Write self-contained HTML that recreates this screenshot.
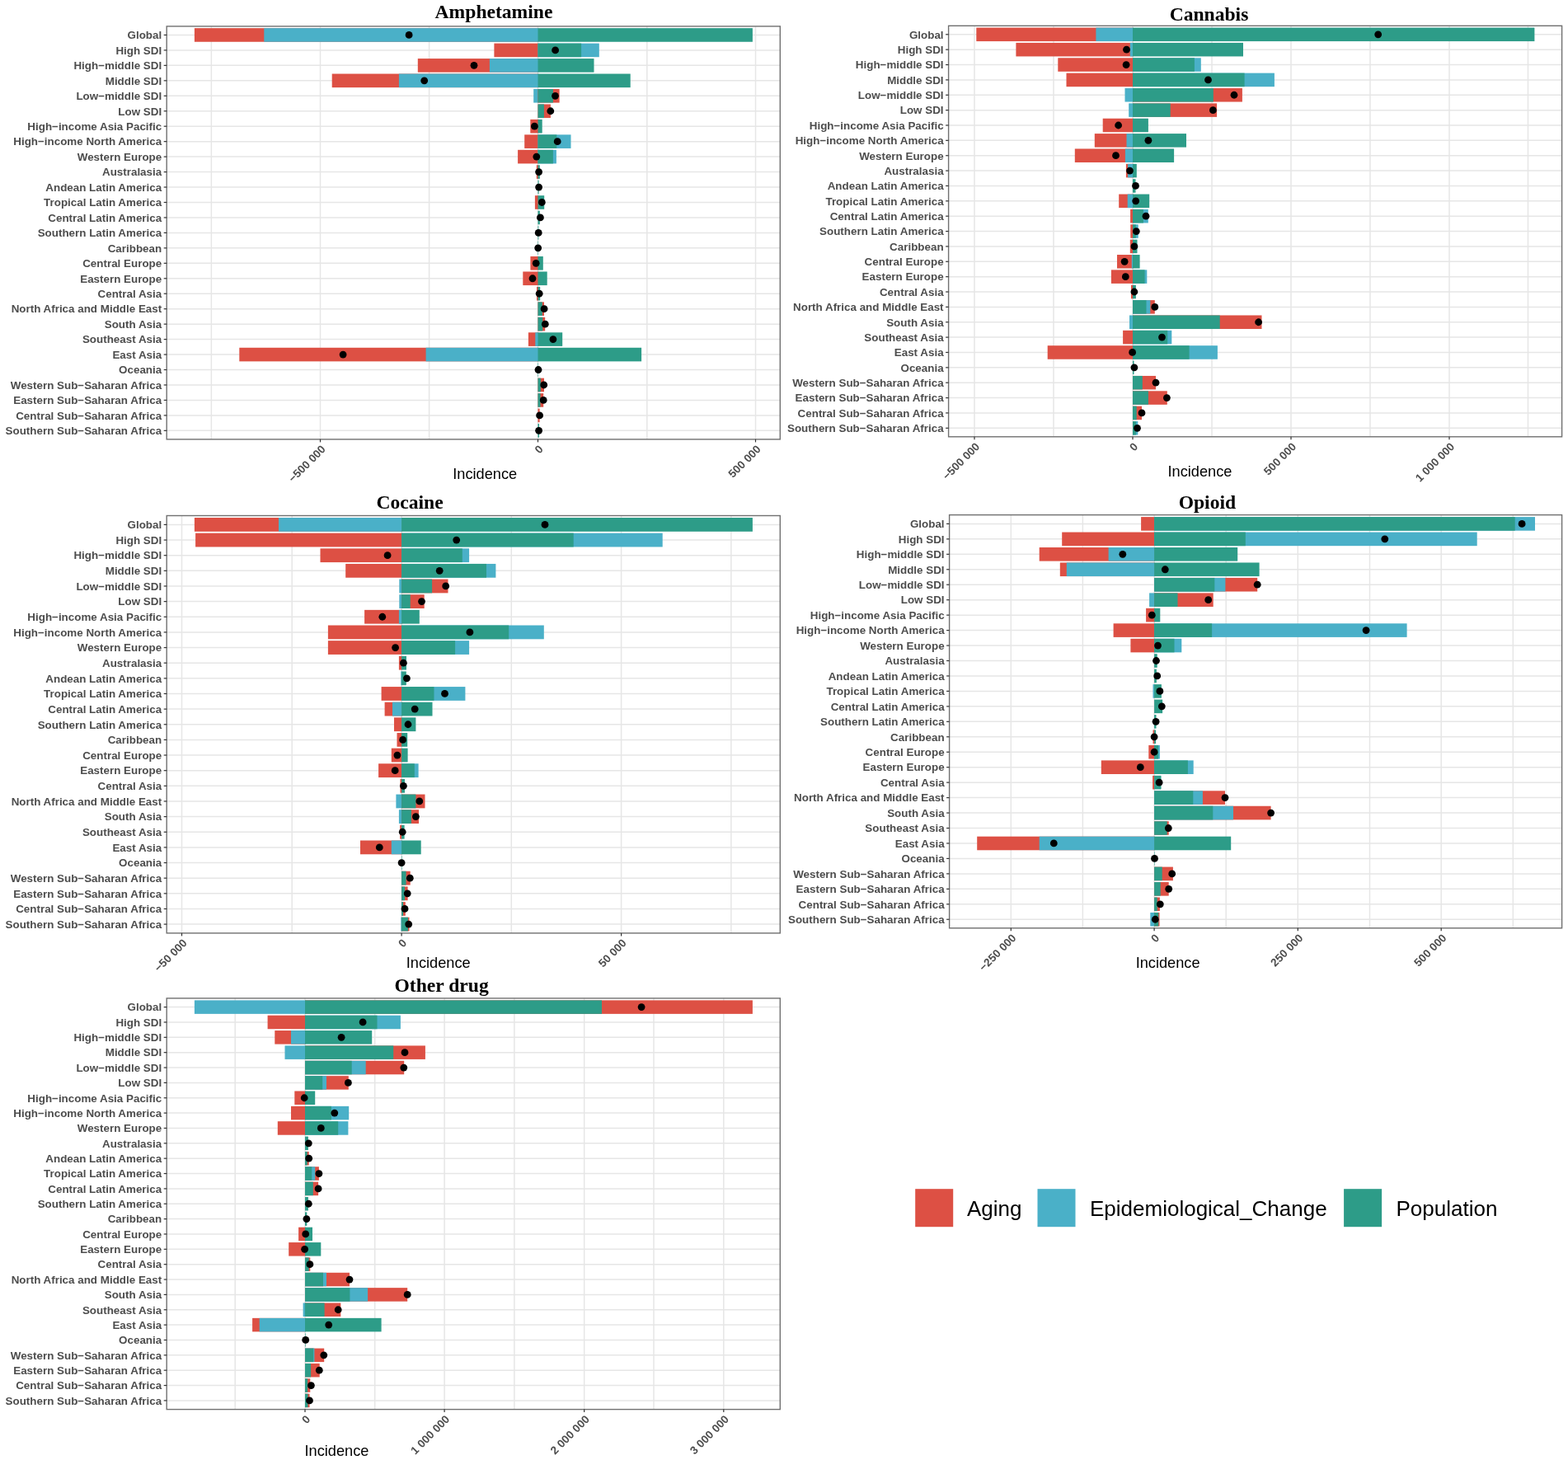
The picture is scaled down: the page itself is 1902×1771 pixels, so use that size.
<!DOCTYPE html>
<html><head><meta charset="utf-8"><title>Decomposition of incidence</title>
<style>
html,body{margin:0;padding:0;background:#fff;}
svg{display:block;}
.yl{font-family:"Liberation Sans",Arial,sans-serif;font-weight:bold;font-size:13.4px;fill:#4D4D4D;}
.xl{font-family:"Liberation Sans",Arial,sans-serif;font-weight:bold;font-size:13.5px;fill:#4D4D4D;}
.tt{font-family:"Liberation Serif","Times New Roman",serif;font-weight:bold;font-size:23.6px;fill:#000;}
.ax{font-family:"Liberation Sans",Arial,sans-serif;font-size:18.2px;fill:#000;}
.lg{font-family:"Liberation Sans",Arial,sans-serif;font-size:26.0px;fill:#000;}
</style></head>
<body>
<svg width="1902" height="1771" viewBox="0 0 1902 1771">
<rect x="0" y="0" width="1902" height="1771" fill="#fff"/>
<line x1="256.4" y1="31.9" x2="256.4" y2="532.9" stroke="#E6E6E6" stroke-width="1.5"/>
<line x1="520.6" y1="31.9" x2="520.6" y2="532.9" stroke="#E6E6E6" stroke-width="1.5"/>
<line x1="784.8" y1="31.9" x2="784.8" y2="532.9" stroke="#E6E6E6" stroke-width="1.5"/>
<line x1="388.5" y1="31.9" x2="388.5" y2="532.9" stroke="#E6E6E6" stroke-width="1.5"/>
<line x1="652.5" y1="31.9" x2="652.5" y2="532.9" stroke="#E6E6E6" stroke-width="1.5"/>
<line x1="916.5" y1="31.9" x2="916.5" y2="532.9" stroke="#E6E6E6" stroke-width="1.5"/>
<line x1="202.2" y1="42.45" x2="946.3" y2="42.45" stroke="#E6E6E6" stroke-width="1.5"/>
<line x1="202.2" y1="60.91" x2="946.3" y2="60.91" stroke="#E6E6E6" stroke-width="1.5"/>
<line x1="202.2" y1="79.37" x2="946.3" y2="79.37" stroke="#E6E6E6" stroke-width="1.5"/>
<line x1="202.2" y1="97.82" x2="946.3" y2="97.82" stroke="#E6E6E6" stroke-width="1.5"/>
<line x1="202.2" y1="116.28" x2="946.3" y2="116.28" stroke="#E6E6E6" stroke-width="1.5"/>
<line x1="202.2" y1="134.74" x2="946.3" y2="134.74" stroke="#E6E6E6" stroke-width="1.5"/>
<line x1="202.2" y1="153.2" x2="946.3" y2="153.2" stroke="#E6E6E6" stroke-width="1.5"/>
<line x1="202.2" y1="171.65" x2="946.3" y2="171.65" stroke="#E6E6E6" stroke-width="1.5"/>
<line x1="202.2" y1="190.11" x2="946.3" y2="190.11" stroke="#E6E6E6" stroke-width="1.5"/>
<line x1="202.2" y1="208.57" x2="946.3" y2="208.57" stroke="#E6E6E6" stroke-width="1.5"/>
<line x1="202.2" y1="227.03" x2="946.3" y2="227.03" stroke="#E6E6E6" stroke-width="1.5"/>
<line x1="202.2" y1="245.48" x2="946.3" y2="245.48" stroke="#E6E6E6" stroke-width="1.5"/>
<line x1="202.2" y1="263.94" x2="946.3" y2="263.94" stroke="#E6E6E6" stroke-width="1.5"/>
<line x1="202.2" y1="282.4" x2="946.3" y2="282.4" stroke="#E6E6E6" stroke-width="1.5"/>
<line x1="202.2" y1="300.86" x2="946.3" y2="300.86" stroke="#E6E6E6" stroke-width="1.5"/>
<line x1="202.2" y1="319.32" x2="946.3" y2="319.32" stroke="#E6E6E6" stroke-width="1.5"/>
<line x1="202.2" y1="337.77" x2="946.3" y2="337.77" stroke="#E6E6E6" stroke-width="1.5"/>
<line x1="202.2" y1="356.23" x2="946.3" y2="356.23" stroke="#E6E6E6" stroke-width="1.5"/>
<line x1="202.2" y1="374.69" x2="946.3" y2="374.69" stroke="#E6E6E6" stroke-width="1.5"/>
<line x1="202.2" y1="393.15" x2="946.3" y2="393.15" stroke="#E6E6E6" stroke-width="1.5"/>
<line x1="202.2" y1="411.6" x2="946.3" y2="411.6" stroke="#E6E6E6" stroke-width="1.5"/>
<line x1="202.2" y1="430.06" x2="946.3" y2="430.06" stroke="#E6E6E6" stroke-width="1.5"/>
<line x1="202.2" y1="448.52" x2="946.3" y2="448.52" stroke="#E6E6E6" stroke-width="1.5"/>
<line x1="202.2" y1="466.98" x2="946.3" y2="466.98" stroke="#E6E6E6" stroke-width="1.5"/>
<line x1="202.2" y1="485.43" x2="946.3" y2="485.43" stroke="#E6E6E6" stroke-width="1.5"/>
<line x1="202.2" y1="503.89" x2="946.3" y2="503.89" stroke="#E6E6E6" stroke-width="1.5"/>
<line x1="202.2" y1="522.35" x2="946.3" y2="522.35" stroke="#E6E6E6" stroke-width="1.5"/>
<rect x="235.9" y="34.14" width="417.2" height="16.61" fill="#DD5044"/>
<rect x="320.3" y="34.14" width="332.8" height="16.61" fill="#4AB0C8"/>
<rect x="652.5" y="34.14" width="260.4" height="16.61" fill="#2D9C88"/>
<rect x="599.4" y="52.6" width="53.7" height="16.61" fill="#DD5044"/>
<rect x="652.5" y="52.6" width="74.3" height="16.61" fill="#4AB0C8"/>
<rect x="652.5" y="52.6" width="52.6" height="16.61" fill="#2D9C88"/>
<rect x="506.8" y="71.06" width="146.3" height="16.61" fill="#DD5044"/>
<rect x="593.9" y="71.06" width="59.2" height="16.61" fill="#4AB0C8"/>
<rect x="652.5" y="71.06" width="68" height="16.61" fill="#2D9C88"/>
<rect x="402.7" y="89.52" width="250.4" height="16.61" fill="#DD5044"/>
<rect x="483.9" y="89.52" width="169.2" height="16.61" fill="#4AB0C8"/>
<rect x="652.5" y="89.52" width="112.2" height="16.61" fill="#2D9C88"/>
<rect x="647.2" y="107.97" width="5.9" height="16.61" fill="#4AB0C8"/>
<rect x="652.5" y="107.97" width="26.1" height="16.61" fill="#DD5044"/>
<rect x="652.5" y="107.97" width="18.4" height="16.61" fill="#2D9C88"/>
<rect x="652.5" y="126.43" width="15.4" height="16.61" fill="#DD5044"/>
<rect x="652.5" y="126.43" width="7.4" height="16.61" fill="#2D9C88"/>
<rect x="643.3" y="144.89" width="9.8" height="16.61" fill="#DD5044"/>
<rect x="652.5" y="144.89" width="5.2" height="16.61" fill="#2D9C88"/>
<rect x="636.2" y="163.35" width="16.9" height="16.61" fill="#DD5044"/>
<rect x="652.5" y="163.35" width="40" height="16.61" fill="#4AB0C8"/>
<rect x="652.5" y="163.35" width="22.8" height="16.61" fill="#2D9C88"/>
<rect x="628.1" y="181.81" width="25" height="16.61" fill="#DD5044"/>
<rect x="652.5" y="181.81" width="22.4" height="16.61" fill="#4AB0C8"/>
<rect x="652.5" y="181.81" width="18.4" height="16.61" fill="#2D9C88"/>
<rect x="650.8" y="200.26" width="2.3" height="16.61" fill="#DD5044"/>
<rect x="652.5" y="200.26" width="2.3" height="16.61" fill="#2D9C88"/>
<rect x="652.5" y="218.72" width="1.1" height="16.61" fill="#2D9C88"/>
<rect x="648.9" y="237.18" width="4.2" height="16.61" fill="#DD5044"/>
<rect x="652.5" y="237.18" width="7.7" height="16.61" fill="#2D9C88"/>
<rect x="652.5" y="255.64" width="2.3" height="16.61" fill="#2D9C88"/>
<rect x="652.5" y="274.09" width="0.8" height="16.61" fill="#2D9C88"/>
<rect x="652.5" y="292.55" width="0.5" height="16.61" fill="#2D9C88"/>
<rect x="643.4" y="311.01" width="9.7" height="16.61" fill="#DD5044"/>
<rect x="652.5" y="311.01" width="6.3" height="16.61" fill="#2D9C88"/>
<rect x="634.3" y="329.47" width="18.8" height="16.61" fill="#DD5044"/>
<rect x="652.5" y="329.47" width="11.2" height="16.61" fill="#2D9C88"/>
<rect x="651" y="347.92" width="2.1" height="16.61" fill="#DD5044"/>
<rect x="652.5" y="347.92" width="2.7" height="16.61" fill="#2D9C88"/>
<rect x="652.5" y="366.38" width="7.5" height="16.61" fill="#DD5044"/>
<rect x="652.5" y="366.38" width="5.3" height="16.61" fill="#2D9C88"/>
<rect x="652.5" y="384.84" width="8.7" height="16.61" fill="#DD5044"/>
<rect x="652.5" y="384.84" width="5.7" height="16.61" fill="#2D9C88"/>
<rect x="640.9" y="403.3" width="12.2" height="16.61" fill="#DD5044"/>
<rect x="649.3" y="403.3" width="3.8" height="16.61" fill="#4AB0C8"/>
<rect x="652.5" y="403.3" width="29.7" height="16.61" fill="#2D9C88"/>
<rect x="290.3" y="421.76" width="362.8" height="16.61" fill="#DD5044"/>
<rect x="516.6" y="421.76" width="136.5" height="16.61" fill="#4AB0C8"/>
<rect x="652.5" y="421.76" width="125.6" height="16.61" fill="#2D9C88"/>
<rect x="652.5" y="440.21" width="0.5" height="16.61" fill="#2D9C88"/>
<rect x="652.5" y="458.67" width="7.5" height="16.61" fill="#DD5044"/>
<rect x="652.5" y="458.67" width="3.4" height="16.61" fill="#2D9C88"/>
<rect x="652.5" y="477.13" width="6.7" height="16.61" fill="#DD5044"/>
<rect x="652.5" y="477.13" width="3" height="16.61" fill="#2D9C88"/>
<rect x="652.5" y="495.59" width="2.1" height="16.61" fill="#DD5044"/>
<rect x="652.5" y="514.04" width="1.5" height="16.61" fill="#2D9C88"/>
<circle cx="496.1" cy="42.45" r="4.4" fill="#000"/>
<circle cx="673.6" cy="60.91" r="4.4" fill="#000"/>
<circle cx="575" cy="79.37" r="4.4" fill="#000"/>
<circle cx="514.7" cy="97.82" r="4.4" fill="#000"/>
<circle cx="673.5" cy="116.28" r="4.4" fill="#000"/>
<circle cx="667.8" cy="134.74" r="4.4" fill="#000"/>
<circle cx="648.4" cy="153.2" r="4.4" fill="#000"/>
<circle cx="676.2" cy="171.65" r="4.4" fill="#000"/>
<circle cx="650.8" cy="190.11" r="4.4" fill="#000"/>
<circle cx="653.6" cy="208.57" r="4.4" fill="#000"/>
<circle cx="653.6" cy="227.03" r="4.4" fill="#000"/>
<circle cx="657.3" cy="245.48" r="4.4" fill="#000"/>
<circle cx="655.4" cy="263.94" r="4.4" fill="#000"/>
<circle cx="653.2" cy="282.4" r="4.4" fill="#000"/>
<circle cx="652.7" cy="300.86" r="4.4" fill="#000"/>
<circle cx="650.2" cy="319.32" r="4.4" fill="#000"/>
<circle cx="646" cy="337.77" r="4.4" fill="#000"/>
<circle cx="654.2" cy="356.23" r="4.4" fill="#000"/>
<circle cx="660.1" cy="374.69" r="4.4" fill="#000"/>
<circle cx="661.3" cy="393.15" r="4.4" fill="#000"/>
<circle cx="670.9" cy="411.6" r="4.4" fill="#000"/>
<circle cx="416.1" cy="430.06" r="4.4" fill="#000"/>
<circle cx="653" cy="448.52" r="4.4" fill="#000"/>
<circle cx="659.7" cy="466.98" r="4.4" fill="#000"/>
<circle cx="659.2" cy="485.43" r="4.4" fill="#000"/>
<circle cx="654.6" cy="503.89" r="4.4" fill="#000"/>
<circle cx="653.6" cy="522.35" r="4.4" fill="#000"/>
<rect x="202.2" y="31.9" width="744.1" height="501" fill="none" stroke="#707070" stroke-width="1.4"/>
<line x1="198.7" y1="42.45" x2="202.2" y2="42.45" stroke="#333" stroke-width="1.2"/>
<text x="196.2" y="47.25" text-anchor="end" class="yl">Global</text>
<line x1="198.7" y1="60.91" x2="202.2" y2="60.91" stroke="#333" stroke-width="1.2"/>
<text x="196.2" y="65.71" text-anchor="end" class="yl">High SDI</text>
<line x1="198.7" y1="79.37" x2="202.2" y2="79.37" stroke="#333" stroke-width="1.2"/>
<text x="196.2" y="84.17" text-anchor="end" class="yl">High−middle SDI</text>
<line x1="198.7" y1="97.82" x2="202.2" y2="97.82" stroke="#333" stroke-width="1.2"/>
<text x="196.2" y="102.62" text-anchor="end" class="yl">Middle SDI</text>
<line x1="198.7" y1="116.28" x2="202.2" y2="116.28" stroke="#333" stroke-width="1.2"/>
<text x="196.2" y="121.08" text-anchor="end" class="yl">Low−middle SDI</text>
<line x1="198.7" y1="134.74" x2="202.2" y2="134.74" stroke="#333" stroke-width="1.2"/>
<text x="196.2" y="139.54" text-anchor="end" class="yl">Low SDI</text>
<line x1="198.7" y1="153.2" x2="202.2" y2="153.2" stroke="#333" stroke-width="1.2"/>
<text x="196.2" y="158" text-anchor="end" class="yl">High−income Asia Pacific</text>
<line x1="198.7" y1="171.65" x2="202.2" y2="171.65" stroke="#333" stroke-width="1.2"/>
<text x="196.2" y="176.45" text-anchor="end" class="yl">High−income North America</text>
<line x1="198.7" y1="190.11" x2="202.2" y2="190.11" stroke="#333" stroke-width="1.2"/>
<text x="196.2" y="194.91" text-anchor="end" class="yl">Western Europe</text>
<line x1="198.7" y1="208.57" x2="202.2" y2="208.57" stroke="#333" stroke-width="1.2"/>
<text x="196.2" y="213.37" text-anchor="end" class="yl">Australasia</text>
<line x1="198.7" y1="227.03" x2="202.2" y2="227.03" stroke="#333" stroke-width="1.2"/>
<text x="196.2" y="231.83" text-anchor="end" class="yl">Andean Latin America</text>
<line x1="198.7" y1="245.48" x2="202.2" y2="245.48" stroke="#333" stroke-width="1.2"/>
<text x="196.2" y="250.28" text-anchor="end" class="yl">Tropical Latin America</text>
<line x1="198.7" y1="263.94" x2="202.2" y2="263.94" stroke="#333" stroke-width="1.2"/>
<text x="196.2" y="268.74" text-anchor="end" class="yl">Central Latin America</text>
<line x1="198.7" y1="282.4" x2="202.2" y2="282.4" stroke="#333" stroke-width="1.2"/>
<text x="196.2" y="287.2" text-anchor="end" class="yl">Southern Latin America</text>
<line x1="198.7" y1="300.86" x2="202.2" y2="300.86" stroke="#333" stroke-width="1.2"/>
<text x="196.2" y="305.66" text-anchor="end" class="yl">Caribbean</text>
<line x1="198.7" y1="319.32" x2="202.2" y2="319.32" stroke="#333" stroke-width="1.2"/>
<text x="196.2" y="324.12" text-anchor="end" class="yl">Central Europe</text>
<line x1="198.7" y1="337.77" x2="202.2" y2="337.77" stroke="#333" stroke-width="1.2"/>
<text x="196.2" y="342.57" text-anchor="end" class="yl">Eastern Europe</text>
<line x1="198.7" y1="356.23" x2="202.2" y2="356.23" stroke="#333" stroke-width="1.2"/>
<text x="196.2" y="361.03" text-anchor="end" class="yl">Central Asia</text>
<line x1="198.7" y1="374.69" x2="202.2" y2="374.69" stroke="#333" stroke-width="1.2"/>
<text x="196.2" y="379.49" text-anchor="end" class="yl">North Africa and Middle East</text>
<line x1="198.7" y1="393.15" x2="202.2" y2="393.15" stroke="#333" stroke-width="1.2"/>
<text x="196.2" y="397.95" text-anchor="end" class="yl">South Asia</text>
<line x1="198.7" y1="411.6" x2="202.2" y2="411.6" stroke="#333" stroke-width="1.2"/>
<text x="196.2" y="416.4" text-anchor="end" class="yl">Southeast Asia</text>
<line x1="198.7" y1="430.06" x2="202.2" y2="430.06" stroke="#333" stroke-width="1.2"/>
<text x="196.2" y="434.86" text-anchor="end" class="yl">East Asia</text>
<line x1="198.7" y1="448.52" x2="202.2" y2="448.52" stroke="#333" stroke-width="1.2"/>
<text x="196.2" y="453.32" text-anchor="end" class="yl">Oceania</text>
<line x1="198.7" y1="466.98" x2="202.2" y2="466.98" stroke="#333" stroke-width="1.2"/>
<text x="196.2" y="471.78" text-anchor="end" class="yl">Western Sub−Saharan Africa</text>
<line x1="198.7" y1="485.43" x2="202.2" y2="485.43" stroke="#333" stroke-width="1.2"/>
<text x="196.2" y="490.23" text-anchor="end" class="yl">Eastern Sub−Saharan Africa</text>
<line x1="198.7" y1="503.89" x2="202.2" y2="503.89" stroke="#333" stroke-width="1.2"/>
<text x="196.2" y="508.69" text-anchor="end" class="yl">Central Sub−Saharan Africa</text>
<line x1="198.7" y1="522.35" x2="202.2" y2="522.35" stroke="#333" stroke-width="1.2"/>
<text x="196.2" y="527.15" text-anchor="end" class="yl">Southern Sub−Saharan Africa</text>
<line x1="388.5" y1="532.9" x2="388.5" y2="536.4" stroke="#333" stroke-width="1.2"/>
<text x="0" y="0" text-anchor="end" class="xl" transform="translate(388.7,538.9) rotate(-45) translate(0,9.72)">−500 000</text>
<line x1="652.5" y1="532.9" x2="652.5" y2="536.4" stroke="#333" stroke-width="1.2"/>
<text x="0" y="0" text-anchor="end" class="xl" transform="translate(652.7,538.9) rotate(-45) translate(0,9.72)">0</text>
<line x1="916.5" y1="532.9" x2="916.5" y2="536.4" stroke="#333" stroke-width="1.2"/>
<text x="0" y="0" text-anchor="end" class="xl" transform="translate(916.7,538.9) rotate(-45) translate(0,9.72)">500 000</text>
<text x="599" y="22.1" text-anchor="middle" class="tt">Amphetamine</text>
<text x="588.2" y="580.8" text-anchor="middle" class="ax">Incidence</text>
<line x1="1278" y1="31.3" x2="1278" y2="529.8" stroke="#E6E6E6" stroke-width="1.5"/>
<line x1="1470" y1="31.3" x2="1470" y2="529.8" stroke="#E6E6E6" stroke-width="1.5"/>
<line x1="1662" y1="31.3" x2="1662" y2="529.8" stroke="#E6E6E6" stroke-width="1.5"/>
<line x1="1853.5" y1="31.3" x2="1853.5" y2="529.8" stroke="#E6E6E6" stroke-width="1.5"/>
<line x1="1182" y1="31.3" x2="1182" y2="529.8" stroke="#E6E6E6" stroke-width="1.5"/>
<line x1="1374" y1="31.3" x2="1374" y2="529.8" stroke="#E6E6E6" stroke-width="1.5"/>
<line x1="1566" y1="31.3" x2="1566" y2="529.8" stroke="#E6E6E6" stroke-width="1.5"/>
<line x1="1758" y1="31.3" x2="1758" y2="529.8" stroke="#E6E6E6" stroke-width="1.5"/>
<line x1="1150.6" y1="41.8" x2="1894.6" y2="41.8" stroke="#E6E6E6" stroke-width="1.5"/>
<line x1="1150.6" y1="60.17" x2="1894.6" y2="60.17" stroke="#E6E6E6" stroke-width="1.5"/>
<line x1="1150.6" y1="78.53" x2="1894.6" y2="78.53" stroke="#E6E6E6" stroke-width="1.5"/>
<line x1="1150.6" y1="96.9" x2="1894.6" y2="96.9" stroke="#E6E6E6" stroke-width="1.5"/>
<line x1="1150.6" y1="115.26" x2="1894.6" y2="115.26" stroke="#E6E6E6" stroke-width="1.5"/>
<line x1="1150.6" y1="133.63" x2="1894.6" y2="133.63" stroke="#E6E6E6" stroke-width="1.5"/>
<line x1="1150.6" y1="151.99" x2="1894.6" y2="151.99" stroke="#E6E6E6" stroke-width="1.5"/>
<line x1="1150.6" y1="170.36" x2="1894.6" y2="170.36" stroke="#E6E6E6" stroke-width="1.5"/>
<line x1="1150.6" y1="188.72" x2="1894.6" y2="188.72" stroke="#E6E6E6" stroke-width="1.5"/>
<line x1="1150.6" y1="207.09" x2="1894.6" y2="207.09" stroke="#E6E6E6" stroke-width="1.5"/>
<line x1="1150.6" y1="225.45" x2="1894.6" y2="225.45" stroke="#E6E6E6" stroke-width="1.5"/>
<line x1="1150.6" y1="243.82" x2="1894.6" y2="243.82" stroke="#E6E6E6" stroke-width="1.5"/>
<line x1="1150.6" y1="262.18" x2="1894.6" y2="262.18" stroke="#E6E6E6" stroke-width="1.5"/>
<line x1="1150.6" y1="280.55" x2="1894.6" y2="280.55" stroke="#E6E6E6" stroke-width="1.5"/>
<line x1="1150.6" y1="298.92" x2="1894.6" y2="298.92" stroke="#E6E6E6" stroke-width="1.5"/>
<line x1="1150.6" y1="317.28" x2="1894.6" y2="317.28" stroke="#E6E6E6" stroke-width="1.5"/>
<line x1="1150.6" y1="335.65" x2="1894.6" y2="335.65" stroke="#E6E6E6" stroke-width="1.5"/>
<line x1="1150.6" y1="354.01" x2="1894.6" y2="354.01" stroke="#E6E6E6" stroke-width="1.5"/>
<line x1="1150.6" y1="372.38" x2="1894.6" y2="372.38" stroke="#E6E6E6" stroke-width="1.5"/>
<line x1="1150.6" y1="390.74" x2="1894.6" y2="390.74" stroke="#E6E6E6" stroke-width="1.5"/>
<line x1="1150.6" y1="409.11" x2="1894.6" y2="409.11" stroke="#E6E6E6" stroke-width="1.5"/>
<line x1="1150.6" y1="427.47" x2="1894.6" y2="427.47" stroke="#E6E6E6" stroke-width="1.5"/>
<line x1="1150.6" y1="445.84" x2="1894.6" y2="445.84" stroke="#E6E6E6" stroke-width="1.5"/>
<line x1="1150.6" y1="464.2" x2="1894.6" y2="464.2" stroke="#E6E6E6" stroke-width="1.5"/>
<line x1="1150.6" y1="482.57" x2="1894.6" y2="482.57" stroke="#E6E6E6" stroke-width="1.5"/>
<line x1="1150.6" y1="500.93" x2="1894.6" y2="500.93" stroke="#E6E6E6" stroke-width="1.5"/>
<line x1="1150.6" y1="519.3" x2="1894.6" y2="519.3" stroke="#E6E6E6" stroke-width="1.5"/>
<rect x="1184.3" y="33.54" width="190.3" height="16.53" fill="#DD5044"/>
<rect x="1329.4" y="33.54" width="45.2" height="16.53" fill="#4AB0C8"/>
<rect x="1374" y="33.54" width="487.4" height="16.53" fill="#2D9C88"/>
<rect x="1232.4" y="51.9" width="142.2" height="16.53" fill="#DD5044"/>
<rect x="1370.8" y="51.9" width="3.8" height="16.53" fill="#4AB0C8"/>
<rect x="1374" y="51.9" width="134" height="16.53" fill="#2D9C88"/>
<rect x="1283.3" y="70.27" width="91.3" height="16.53" fill="#DD5044"/>
<rect x="1374" y="70.27" width="82.8" height="16.53" fill="#4AB0C8"/>
<rect x="1374" y="70.27" width="74.9" height="16.53" fill="#2D9C88"/>
<rect x="1293.5" y="88.63" width="81.1" height="16.53" fill="#DD5044"/>
<rect x="1374" y="88.63" width="171.9" height="16.53" fill="#4AB0C8"/>
<rect x="1374" y="88.63" width="135.6" height="16.53" fill="#2D9C88"/>
<rect x="1364.5" y="107" width="10.1" height="16.53" fill="#4AB0C8"/>
<rect x="1374" y="107" width="132.9" height="16.53" fill="#DD5044"/>
<rect x="1374" y="107" width="97.8" height="16.53" fill="#2D9C88"/>
<rect x="1369.2" y="125.36" width="5.4" height="16.53" fill="#4AB0C8"/>
<rect x="1374" y="125.36" width="102.1" height="16.53" fill="#DD5044"/>
<rect x="1374" y="125.36" width="45.7" height="16.53" fill="#2D9C88"/>
<rect x="1337.7" y="143.73" width="36.9" height="16.53" fill="#DD5044"/>
<rect x="1374" y="143.73" width="18.9" height="16.53" fill="#2D9C88"/>
<rect x="1327.8" y="162.09" width="46.8" height="16.53" fill="#DD5044"/>
<rect x="1366.5" y="162.09" width="8.1" height="16.53" fill="#4AB0C8"/>
<rect x="1374" y="162.09" width="65" height="16.53" fill="#2D9C88"/>
<rect x="1303.8" y="180.46" width="70.8" height="16.53" fill="#DD5044"/>
<rect x="1364.9" y="180.46" width="9.7" height="16.53" fill="#4AB0C8"/>
<rect x="1374" y="180.46" width="50.1" height="16.53" fill="#2D9C88"/>
<rect x="1365.9" y="198.82" width="8.7" height="16.53" fill="#DD5044"/>
<rect x="1368.1" y="198.82" width="6.5" height="16.53" fill="#4AB0C8"/>
<rect x="1374" y="198.82" width="4.8" height="16.53" fill="#2D9C88"/>
<rect x="1374" y="217.19" width="3.5" height="16.53" fill="#2D9C88"/>
<rect x="1357.2" y="235.55" width="17.4" height="16.53" fill="#DD5044"/>
<rect x="1367.7" y="235.55" width="6.9" height="16.53" fill="#4AB0C8"/>
<rect x="1374" y="235.55" width="20.2" height="16.53" fill="#2D9C88"/>
<rect x="1371.1" y="253.92" width="3.5" height="16.53" fill="#DD5044"/>
<rect x="1374" y="253.92" width="18.8" height="16.53" fill="#4AB0C8"/>
<rect x="1374" y="253.92" width="12.9" height="16.53" fill="#2D9C88"/>
<rect x="1371.3" y="272.29" width="3.3" height="16.53" fill="#DD5044"/>
<rect x="1374" y="272.29" width="6.7" height="16.53" fill="#4AB0C8"/>
<rect x="1374" y="272.29" width="3.8" height="16.53" fill="#2D9C88"/>
<rect x="1370.8" y="290.65" width="3.8" height="16.53" fill="#DD5044"/>
<rect x="1374" y="290.65" width="5.5" height="16.53" fill="#2D9C88"/>
<rect x="1355" y="309.02" width="19.6" height="16.53" fill="#DD5044"/>
<rect x="1372.8" y="309.02" width="1.8" height="16.53" fill="#4AB0C8"/>
<rect x="1374" y="309.02" width="8.6" height="16.53" fill="#2D9C88"/>
<rect x="1347.9" y="327.38" width="26.7" height="16.53" fill="#DD5044"/>
<rect x="1374" y="327.38" width="17.3" height="16.53" fill="#4AB0C8"/>
<rect x="1374" y="327.38" width="14.6" height="16.53" fill="#2D9C88"/>
<rect x="1372" y="345.75" width="2.6" height="16.53" fill="#DD5044"/>
<rect x="1374" y="345.75" width="3.9" height="16.53" fill="#2D9C88"/>
<rect x="1374" y="364.11" width="26.8" height="16.53" fill="#DD5044"/>
<rect x="1374" y="364.11" width="21.3" height="16.53" fill="#4AB0C8"/>
<rect x="1374" y="364.11" width="16.5" height="16.53" fill="#2D9C88"/>
<rect x="1370" y="382.48" width="4.6" height="16.53" fill="#4AB0C8"/>
<rect x="1374" y="382.48" width="156.5" height="16.53" fill="#DD5044"/>
<rect x="1374" y="382.48" width="105.7" height="16.53" fill="#2D9C88"/>
<rect x="1362.1" y="400.84" width="12.5" height="16.53" fill="#DD5044"/>
<rect x="1374" y="400.84" width="47.3" height="16.53" fill="#4AB0C8"/>
<rect x="1374" y="400.84" width="42.2" height="16.53" fill="#2D9C88"/>
<rect x="1270.7" y="419.21" width="103.9" height="16.53" fill="#DD5044"/>
<rect x="1374" y="419.21" width="102.9" height="16.53" fill="#4AB0C8"/>
<rect x="1374" y="419.21" width="68.6" height="16.53" fill="#2D9C88"/>
<rect x="1374" y="437.57" width="1.5" height="16.53" fill="#2D9C88"/>
<rect x="1374" y="455.94" width="28" height="16.53" fill="#DD5044"/>
<rect x="1374" y="455.94" width="11.8" height="16.53" fill="#2D9C88"/>
<rect x="1374" y="474.3" width="41.8" height="16.53" fill="#DD5044"/>
<rect x="1374" y="474.3" width="18.9" height="16.53" fill="#2D9C88"/>
<rect x="1374" y="492.67" width="11" height="16.53" fill="#DD5044"/>
<rect x="1374" y="492.67" width="4.7" height="16.53" fill="#2D9C88"/>
<rect x="1374" y="511.04" width="6.3" height="16.53" fill="#4AB0C8"/>
<rect x="1374" y="511.04" width="3.9" height="16.53" fill="#2D9C88"/>
<circle cx="1671.7" cy="41.8" r="4.4" fill="#000"/>
<circle cx="1366.5" cy="60.17" r="4.4" fill="#000"/>
<circle cx="1366.1" cy="78.53" r="4.4" fill="#000"/>
<circle cx="1465.5" cy="96.9" r="4.4" fill="#000"/>
<circle cx="1497" cy="115.26" r="4.4" fill="#000"/>
<circle cx="1471.4" cy="133.63" r="4.4" fill="#000"/>
<circle cx="1356.6" cy="151.99" r="4.4" fill="#000"/>
<circle cx="1392.9" cy="170.36" r="4.4" fill="#000"/>
<circle cx="1353.5" cy="188.72" r="4.4" fill="#000"/>
<circle cx="1370.5" cy="207.09" r="4.4" fill="#000"/>
<circle cx="1377.5" cy="225.45" r="4.4" fill="#000"/>
<circle cx="1377.7" cy="243.82" r="4.4" fill="#000"/>
<circle cx="1390" cy="262.18" r="4.4" fill="#000"/>
<circle cx="1378.3" cy="280.55" r="4.4" fill="#000"/>
<circle cx="1375.9" cy="298.92" r="4.4" fill="#000"/>
<circle cx="1364.1" cy="317.28" r="4.4" fill="#000"/>
<circle cx="1365.3" cy="335.65" r="4.4" fill="#000"/>
<circle cx="1375.9" cy="354.01" r="4.4" fill="#000"/>
<circle cx="1400.8" cy="372.38" r="4.4" fill="#000"/>
<circle cx="1526.6" cy="390.74" r="4.4" fill="#000"/>
<circle cx="1409.5" cy="409.11" r="4.4" fill="#000"/>
<circle cx="1373.6" cy="427.47" r="4.4" fill="#000"/>
<circle cx="1375.9" cy="445.84" r="4.4" fill="#000"/>
<circle cx="1402" cy="464.2" r="4.4" fill="#000"/>
<circle cx="1415.4" cy="482.57" r="4.4" fill="#000"/>
<circle cx="1385" cy="500.93" r="4.4" fill="#000"/>
<circle cx="1379.5" cy="519.3" r="4.4" fill="#000"/>
<rect x="1150.6" y="31.3" width="744" height="498.5" fill="none" stroke="#707070" stroke-width="1.4"/>
<line x1="1147.1" y1="41.8" x2="1150.6" y2="41.8" stroke="#333" stroke-width="1.2"/>
<text x="1144.6" y="46.6" text-anchor="end" class="yl">Global</text>
<line x1="1147.1" y1="60.17" x2="1150.6" y2="60.17" stroke="#333" stroke-width="1.2"/>
<text x="1144.6" y="64.97" text-anchor="end" class="yl">High SDI</text>
<line x1="1147.1" y1="78.53" x2="1150.6" y2="78.53" stroke="#333" stroke-width="1.2"/>
<text x="1144.6" y="83.33" text-anchor="end" class="yl">High−middle SDI</text>
<line x1="1147.1" y1="96.9" x2="1150.6" y2="96.9" stroke="#333" stroke-width="1.2"/>
<text x="1144.6" y="101.7" text-anchor="end" class="yl">Middle SDI</text>
<line x1="1147.1" y1="115.26" x2="1150.6" y2="115.26" stroke="#333" stroke-width="1.2"/>
<text x="1144.6" y="120.06" text-anchor="end" class="yl">Low−middle SDI</text>
<line x1="1147.1" y1="133.63" x2="1150.6" y2="133.63" stroke="#333" stroke-width="1.2"/>
<text x="1144.6" y="138.43" text-anchor="end" class="yl">Low SDI</text>
<line x1="1147.1" y1="151.99" x2="1150.6" y2="151.99" stroke="#333" stroke-width="1.2"/>
<text x="1144.6" y="156.79" text-anchor="end" class="yl">High−income Asia Pacific</text>
<line x1="1147.1" y1="170.36" x2="1150.6" y2="170.36" stroke="#333" stroke-width="1.2"/>
<text x="1144.6" y="175.16" text-anchor="end" class="yl">High−income North America</text>
<line x1="1147.1" y1="188.72" x2="1150.6" y2="188.72" stroke="#333" stroke-width="1.2"/>
<text x="1144.6" y="193.52" text-anchor="end" class="yl">Western Europe</text>
<line x1="1147.1" y1="207.09" x2="1150.6" y2="207.09" stroke="#333" stroke-width="1.2"/>
<text x="1144.6" y="211.89" text-anchor="end" class="yl">Australasia</text>
<line x1="1147.1" y1="225.45" x2="1150.6" y2="225.45" stroke="#333" stroke-width="1.2"/>
<text x="1144.6" y="230.25" text-anchor="end" class="yl">Andean Latin America</text>
<line x1="1147.1" y1="243.82" x2="1150.6" y2="243.82" stroke="#333" stroke-width="1.2"/>
<text x="1144.6" y="248.62" text-anchor="end" class="yl">Tropical Latin America</text>
<line x1="1147.1" y1="262.18" x2="1150.6" y2="262.18" stroke="#333" stroke-width="1.2"/>
<text x="1144.6" y="266.98" text-anchor="end" class="yl">Central Latin America</text>
<line x1="1147.1" y1="280.55" x2="1150.6" y2="280.55" stroke="#333" stroke-width="1.2"/>
<text x="1144.6" y="285.35" text-anchor="end" class="yl">Southern Latin America</text>
<line x1="1147.1" y1="298.92" x2="1150.6" y2="298.92" stroke="#333" stroke-width="1.2"/>
<text x="1144.6" y="303.72" text-anchor="end" class="yl">Caribbean</text>
<line x1="1147.1" y1="317.28" x2="1150.6" y2="317.28" stroke="#333" stroke-width="1.2"/>
<text x="1144.6" y="322.08" text-anchor="end" class="yl">Central Europe</text>
<line x1="1147.1" y1="335.65" x2="1150.6" y2="335.65" stroke="#333" stroke-width="1.2"/>
<text x="1144.6" y="340.45" text-anchor="end" class="yl">Eastern Europe</text>
<line x1="1147.1" y1="354.01" x2="1150.6" y2="354.01" stroke="#333" stroke-width="1.2"/>
<text x="1144.6" y="358.81" text-anchor="end" class="yl">Central Asia</text>
<line x1="1147.1" y1="372.38" x2="1150.6" y2="372.38" stroke="#333" stroke-width="1.2"/>
<text x="1144.6" y="377.18" text-anchor="end" class="yl">North Africa and Middle East</text>
<line x1="1147.1" y1="390.74" x2="1150.6" y2="390.74" stroke="#333" stroke-width="1.2"/>
<text x="1144.6" y="395.54" text-anchor="end" class="yl">South Asia</text>
<line x1="1147.1" y1="409.11" x2="1150.6" y2="409.11" stroke="#333" stroke-width="1.2"/>
<text x="1144.6" y="413.91" text-anchor="end" class="yl">Southeast Asia</text>
<line x1="1147.1" y1="427.47" x2="1150.6" y2="427.47" stroke="#333" stroke-width="1.2"/>
<text x="1144.6" y="432.27" text-anchor="end" class="yl">East Asia</text>
<line x1="1147.1" y1="445.84" x2="1150.6" y2="445.84" stroke="#333" stroke-width="1.2"/>
<text x="1144.6" y="450.64" text-anchor="end" class="yl">Oceania</text>
<line x1="1147.1" y1="464.2" x2="1150.6" y2="464.2" stroke="#333" stroke-width="1.2"/>
<text x="1144.6" y="469" text-anchor="end" class="yl">Western Sub−Saharan Africa</text>
<line x1="1147.1" y1="482.57" x2="1150.6" y2="482.57" stroke="#333" stroke-width="1.2"/>
<text x="1144.6" y="487.37" text-anchor="end" class="yl">Eastern Sub−Saharan Africa</text>
<line x1="1147.1" y1="500.93" x2="1150.6" y2="500.93" stroke="#333" stroke-width="1.2"/>
<text x="1144.6" y="505.73" text-anchor="end" class="yl">Central Sub−Saharan Africa</text>
<line x1="1147.1" y1="519.3" x2="1150.6" y2="519.3" stroke="#333" stroke-width="1.2"/>
<text x="1144.6" y="524.1" text-anchor="end" class="yl">Southern Sub−Saharan Africa</text>
<line x1="1182" y1="529.8" x2="1182" y2="533.3" stroke="#333" stroke-width="1.2"/>
<text x="0" y="0" text-anchor="end" class="xl" transform="translate(1182.2,535.8) rotate(-45) translate(0,9.72)">−500 000</text>
<line x1="1374" y1="529.8" x2="1374" y2="533.3" stroke="#333" stroke-width="1.2"/>
<text x="0" y="0" text-anchor="end" class="xl" transform="translate(1374.2,535.8) rotate(-45) translate(0,9.72)">0</text>
<line x1="1566" y1="529.8" x2="1566" y2="533.3" stroke="#333" stroke-width="1.2"/>
<text x="0" y="0" text-anchor="end" class="xl" transform="translate(1566.2,535.8) rotate(-45) translate(0,9.72)">500 000</text>
<line x1="1758" y1="529.8" x2="1758" y2="533.3" stroke="#333" stroke-width="1.2"/>
<text x="0" y="0" text-anchor="end" class="xl" transform="translate(1758.2,535.8) rotate(-45) translate(0,9.72)">1 000 000</text>
<text x="1466.5" y="24.5" text-anchor="middle" class="tt">Cannabis</text>
<text x="1455.5" y="578.2" text-anchor="middle" class="ax">Incidence</text>
<line x1="354.2" y1="625.5" x2="354.2" y2="1131.9" stroke="#E6E6E6" stroke-width="1.5"/>
<line x1="620.3" y1="625.5" x2="620.3" y2="1131.9" stroke="#E6E6E6" stroke-width="1.5"/>
<line x1="886.9" y1="625.5" x2="886.9" y2="1131.9" stroke="#E6E6E6" stroke-width="1.5"/>
<line x1="220.5" y1="625.5" x2="220.5" y2="1131.9" stroke="#E6E6E6" stroke-width="1.5"/>
<line x1="487.1" y1="625.5" x2="487.1" y2="1131.9" stroke="#E6E6E6" stroke-width="1.5"/>
<line x1="753.6" y1="625.5" x2="753.6" y2="1131.9" stroke="#E6E6E6" stroke-width="1.5"/>
<line x1="202.2" y1="636.4" x2="946.3" y2="636.4" stroke="#E6E6E6" stroke-width="1.5"/>
<line x1="202.2" y1="655.04" x2="946.3" y2="655.04" stroke="#E6E6E6" stroke-width="1.5"/>
<line x1="202.2" y1="673.68" x2="946.3" y2="673.68" stroke="#E6E6E6" stroke-width="1.5"/>
<line x1="202.2" y1="692.33" x2="946.3" y2="692.33" stroke="#E6E6E6" stroke-width="1.5"/>
<line x1="202.2" y1="710.97" x2="946.3" y2="710.97" stroke="#E6E6E6" stroke-width="1.5"/>
<line x1="202.2" y1="729.61" x2="946.3" y2="729.61" stroke="#E6E6E6" stroke-width="1.5"/>
<line x1="202.2" y1="748.25" x2="946.3" y2="748.25" stroke="#E6E6E6" stroke-width="1.5"/>
<line x1="202.2" y1="766.9" x2="946.3" y2="766.9" stroke="#E6E6E6" stroke-width="1.5"/>
<line x1="202.2" y1="785.54" x2="946.3" y2="785.54" stroke="#E6E6E6" stroke-width="1.5"/>
<line x1="202.2" y1="804.18" x2="946.3" y2="804.18" stroke="#E6E6E6" stroke-width="1.5"/>
<line x1="202.2" y1="822.82" x2="946.3" y2="822.82" stroke="#E6E6E6" stroke-width="1.5"/>
<line x1="202.2" y1="841.47" x2="946.3" y2="841.47" stroke="#E6E6E6" stroke-width="1.5"/>
<line x1="202.2" y1="860.11" x2="946.3" y2="860.11" stroke="#E6E6E6" stroke-width="1.5"/>
<line x1="202.2" y1="878.75" x2="946.3" y2="878.75" stroke="#E6E6E6" stroke-width="1.5"/>
<line x1="202.2" y1="897.39" x2="946.3" y2="897.39" stroke="#E6E6E6" stroke-width="1.5"/>
<line x1="202.2" y1="916.03" x2="946.3" y2="916.03" stroke="#E6E6E6" stroke-width="1.5"/>
<line x1="202.2" y1="934.68" x2="946.3" y2="934.68" stroke="#E6E6E6" stroke-width="1.5"/>
<line x1="202.2" y1="953.32" x2="946.3" y2="953.32" stroke="#E6E6E6" stroke-width="1.5"/>
<line x1="202.2" y1="971.96" x2="946.3" y2="971.96" stroke="#E6E6E6" stroke-width="1.5"/>
<line x1="202.2" y1="990.6" x2="946.3" y2="990.6" stroke="#E6E6E6" stroke-width="1.5"/>
<line x1="202.2" y1="1009.25" x2="946.3" y2="1009.25" stroke="#E6E6E6" stroke-width="1.5"/>
<line x1="202.2" y1="1027.89" x2="946.3" y2="1027.89" stroke="#E6E6E6" stroke-width="1.5"/>
<line x1="202.2" y1="1046.53" x2="946.3" y2="1046.53" stroke="#E6E6E6" stroke-width="1.5"/>
<line x1="202.2" y1="1065.17" x2="946.3" y2="1065.17" stroke="#E6E6E6" stroke-width="1.5"/>
<line x1="202.2" y1="1083.82" x2="946.3" y2="1083.82" stroke="#E6E6E6" stroke-width="1.5"/>
<line x1="202.2" y1="1102.46" x2="946.3" y2="1102.46" stroke="#E6E6E6" stroke-width="1.5"/>
<line x1="202.2" y1="1121.1" x2="946.3" y2="1121.1" stroke="#E6E6E6" stroke-width="1.5"/>
<rect x="235.9" y="628.01" width="251.8" height="16.78" fill="#DD5044"/>
<rect x="338" y="628.01" width="149.7" height="16.78" fill="#4AB0C8"/>
<rect x="487.1" y="628.01" width="425.8" height="16.78" fill="#2D9C88"/>
<rect x="237.1" y="646.65" width="250.6" height="16.78" fill="#DD5044"/>
<rect x="487.1" y="646.65" width="316.6" height="16.78" fill="#4AB0C8"/>
<rect x="487.1" y="646.65" width="208.6" height="16.78" fill="#2D9C88"/>
<rect x="388.5" y="665.3" width="99.2" height="16.78" fill="#DD5044"/>
<rect x="487.1" y="665.3" width="82" height="16.78" fill="#4AB0C8"/>
<rect x="487.1" y="665.3" width="73.7" height="16.78" fill="#2D9C88"/>
<rect x="419.2" y="683.94" width="68.5" height="16.78" fill="#DD5044"/>
<rect x="487.1" y="683.94" width="114.3" height="16.78" fill="#4AB0C8"/>
<rect x="487.1" y="683.94" width="102.9" height="16.78" fill="#2D9C88"/>
<rect x="484.3" y="702.58" width="3.4" height="16.78" fill="#4AB0C8"/>
<rect x="487.1" y="702.58" width="56.4" height="16.78" fill="#DD5044"/>
<rect x="487.1" y="702.58" width="37" height="16.78" fill="#2D9C88"/>
<rect x="484.3" y="721.22" width="3.4" height="16.78" fill="#4AB0C8"/>
<rect x="487.1" y="721.22" width="27.6" height="16.78" fill="#DD5044"/>
<rect x="487.1" y="721.22" width="10.6" height="16.78" fill="#2D9C88"/>
<rect x="442.1" y="739.86" width="45.6" height="16.78" fill="#DD5044"/>
<rect x="483.9" y="739.86" width="3.8" height="16.78" fill="#4AB0C8"/>
<rect x="487.1" y="739.86" width="21.7" height="16.78" fill="#2D9C88"/>
<rect x="397.9" y="758.51" width="89.8" height="16.78" fill="#DD5044"/>
<rect x="487.1" y="758.51" width="172.7" height="16.78" fill="#4AB0C8"/>
<rect x="487.1" y="758.51" width="130.1" height="16.78" fill="#2D9C88"/>
<rect x="397.9" y="777.15" width="89.8" height="16.78" fill="#DD5044"/>
<rect x="487.1" y="777.15" width="82" height="16.78" fill="#4AB0C8"/>
<rect x="487.1" y="777.15" width="65" height="16.78" fill="#2D9C88"/>
<rect x="483.9" y="795.79" width="3.8" height="16.78" fill="#DD5044"/>
<rect x="487.1" y="795.79" width="5.9" height="16.78" fill="#2D9C88"/>
<rect x="486.3" y="814.43" width="1.4" height="16.78" fill="#4AB0C8"/>
<rect x="487.1" y="814.43" width="5.7" height="16.78" fill="#2D9C88"/>
<rect x="462.6" y="833.08" width="25.1" height="16.78" fill="#DD5044"/>
<rect x="487.1" y="833.08" width="77.3" height="16.78" fill="#4AB0C8"/>
<rect x="487.1" y="833.08" width="39.4" height="16.78" fill="#2D9C88"/>
<rect x="466.6" y="851.72" width="21.1" height="16.78" fill="#DD5044"/>
<rect x="476" y="851.72" width="11.7" height="16.78" fill="#4AB0C8"/>
<rect x="487.1" y="851.72" width="37.4" height="16.78" fill="#2D9C88"/>
<rect x="478" y="870.36" width="9.7" height="16.78" fill="#DD5044"/>
<rect x="487.1" y="870.36" width="17.3" height="16.78" fill="#2D9C88"/>
<rect x="481.5" y="889" width="6.2" height="16.78" fill="#DD5044"/>
<rect x="487.1" y="889" width="7.1" height="16.78" fill="#2D9C88"/>
<rect x="474.8" y="907.65" width="12.9" height="16.78" fill="#DD5044"/>
<rect x="487.1" y="907.65" width="7.5" height="16.78" fill="#2D9C88"/>
<rect x="459.1" y="926.29" width="28.6" height="16.78" fill="#DD5044"/>
<rect x="487.1" y="926.29" width="20.5" height="16.78" fill="#4AB0C8"/>
<rect x="487.1" y="926.29" width="15.7" height="16.78" fill="#2D9C88"/>
<rect x="485.5" y="944.93" width="2.2" height="16.78" fill="#DD5044"/>
<rect x="487.1" y="944.93" width="3.9" height="16.78" fill="#2D9C88"/>
<rect x="480.4" y="963.57" width="7.3" height="16.78" fill="#4AB0C8"/>
<rect x="487.1" y="963.57" width="28.4" height="16.78" fill="#DD5044"/>
<rect x="487.1" y="963.57" width="17.3" height="16.78" fill="#2D9C88"/>
<rect x="483.9" y="982.21" width="3.8" height="16.78" fill="#4AB0C8"/>
<rect x="487.1" y="982.21" width="20.9" height="16.78" fill="#DD5044"/>
<rect x="487.1" y="982.21" width="11.8" height="16.78" fill="#2D9C88"/>
<rect x="485.1" y="1000.86" width="2.6" height="16.78" fill="#DD5044"/>
<rect x="487.1" y="1000.86" width="3.5" height="16.78" fill="#2D9C88"/>
<rect x="437" y="1019.5" width="50.7" height="16.78" fill="#DD5044"/>
<rect x="474.8" y="1019.5" width="12.9" height="16.78" fill="#4AB0C8"/>
<rect x="487.1" y="1019.5" width="23.6" height="16.78" fill="#2D9C88"/>
<rect x="487.1" y="1038.14" width="0.5" height="16.78" fill="#2D9C88"/>
<rect x="487.1" y="1056.78" width="10.6" height="16.78" fill="#DD5044"/>
<rect x="487.1" y="1056.78" width="5.5" height="16.78" fill="#2D9C88"/>
<rect x="487.1" y="1075.43" width="7.5" height="16.78" fill="#DD5044"/>
<rect x="487.1" y="1075.43" width="3.9" height="16.78" fill="#2D9C88"/>
<rect x="487.1" y="1094.07" width="4.7" height="16.78" fill="#DD5044"/>
<rect x="487.1" y="1094.07" width="1.9" height="16.78" fill="#2D9C88"/>
<rect x="486.3" y="1112.71" width="1.4" height="16.78" fill="#4AB0C8"/>
<rect x="487.1" y="1112.71" width="9.4" height="16.78" fill="#DD5044"/>
<rect x="487.1" y="1112.71" width="7.9" height="16.78" fill="#2D9C88"/>
<circle cx="661" cy="636.4" r="4.4" fill="#000"/>
<circle cx="553.7" cy="655.04" r="4.4" fill="#000"/>
<circle cx="470.1" cy="673.68" r="4.4" fill="#000"/>
<circle cx="533.2" cy="692.33" r="4.4" fill="#000"/>
<circle cx="540.7" cy="710.97" r="4.4" fill="#000"/>
<circle cx="511.5" cy="729.61" r="4.4" fill="#000"/>
<circle cx="463.8" cy="748.25" r="4.4" fill="#000"/>
<circle cx="569.9" cy="766.9" r="4.4" fill="#000"/>
<circle cx="479.6" cy="785.54" r="4.4" fill="#000"/>
<circle cx="489.4" cy="804.18" r="4.4" fill="#000"/>
<circle cx="493.4" cy="822.82" r="4.4" fill="#000"/>
<circle cx="539.5" cy="841.47" r="4.4" fill="#000"/>
<circle cx="503.2" cy="860.11" r="4.4" fill="#000"/>
<circle cx="495" cy="878.75" r="4.4" fill="#000"/>
<circle cx="488.6" cy="897.39" r="4.4" fill="#000"/>
<circle cx="481.9" cy="916.03" r="4.4" fill="#000"/>
<circle cx="479.2" cy="934.68" r="4.4" fill="#000"/>
<circle cx="489.4" cy="953.32" r="4.4" fill="#000"/>
<circle cx="508.8" cy="971.96" r="4.4" fill="#000"/>
<circle cx="504.4" cy="990.6" r="4.4" fill="#000"/>
<circle cx="488.2" cy="1009.25" r="4.4" fill="#000"/>
<circle cx="460.3" cy="1027.89" r="4.4" fill="#000"/>
<circle cx="487.1" cy="1046.53" r="4.4" fill="#000"/>
<circle cx="497.3" cy="1065.17" r="4.4" fill="#000"/>
<circle cx="494.2" cy="1083.82" r="4.4" fill="#000"/>
<circle cx="491" cy="1102.46" r="4.4" fill="#000"/>
<circle cx="495.7" cy="1121.1" r="4.4" fill="#000"/>
<rect x="202.2" y="625.5" width="744.1" height="506.4" fill="none" stroke="#707070" stroke-width="1.4"/>
<line x1="198.7" y1="636.4" x2="202.2" y2="636.4" stroke="#333" stroke-width="1.2"/>
<text x="196.2" y="641.2" text-anchor="end" class="yl">Global</text>
<line x1="198.7" y1="655.04" x2="202.2" y2="655.04" stroke="#333" stroke-width="1.2"/>
<text x="196.2" y="659.84" text-anchor="end" class="yl">High SDI</text>
<line x1="198.7" y1="673.68" x2="202.2" y2="673.68" stroke="#333" stroke-width="1.2"/>
<text x="196.2" y="678.48" text-anchor="end" class="yl">High−middle SDI</text>
<line x1="198.7" y1="692.33" x2="202.2" y2="692.33" stroke="#333" stroke-width="1.2"/>
<text x="196.2" y="697.13" text-anchor="end" class="yl">Middle SDI</text>
<line x1="198.7" y1="710.97" x2="202.2" y2="710.97" stroke="#333" stroke-width="1.2"/>
<text x="196.2" y="715.77" text-anchor="end" class="yl">Low−middle SDI</text>
<line x1="198.7" y1="729.61" x2="202.2" y2="729.61" stroke="#333" stroke-width="1.2"/>
<text x="196.2" y="734.41" text-anchor="end" class="yl">Low SDI</text>
<line x1="198.7" y1="748.25" x2="202.2" y2="748.25" stroke="#333" stroke-width="1.2"/>
<text x="196.2" y="753.05" text-anchor="end" class="yl">High−income Asia Pacific</text>
<line x1="198.7" y1="766.9" x2="202.2" y2="766.9" stroke="#333" stroke-width="1.2"/>
<text x="196.2" y="771.7" text-anchor="end" class="yl">High−income North America</text>
<line x1="198.7" y1="785.54" x2="202.2" y2="785.54" stroke="#333" stroke-width="1.2"/>
<text x="196.2" y="790.34" text-anchor="end" class="yl">Western Europe</text>
<line x1="198.7" y1="804.18" x2="202.2" y2="804.18" stroke="#333" stroke-width="1.2"/>
<text x="196.2" y="808.98" text-anchor="end" class="yl">Australasia</text>
<line x1="198.7" y1="822.82" x2="202.2" y2="822.82" stroke="#333" stroke-width="1.2"/>
<text x="196.2" y="827.62" text-anchor="end" class="yl">Andean Latin America</text>
<line x1="198.7" y1="841.47" x2="202.2" y2="841.47" stroke="#333" stroke-width="1.2"/>
<text x="196.2" y="846.27" text-anchor="end" class="yl">Tropical Latin America</text>
<line x1="198.7" y1="860.11" x2="202.2" y2="860.11" stroke="#333" stroke-width="1.2"/>
<text x="196.2" y="864.91" text-anchor="end" class="yl">Central Latin America</text>
<line x1="198.7" y1="878.75" x2="202.2" y2="878.75" stroke="#333" stroke-width="1.2"/>
<text x="196.2" y="883.55" text-anchor="end" class="yl">Southern Latin America</text>
<line x1="198.7" y1="897.39" x2="202.2" y2="897.39" stroke="#333" stroke-width="1.2"/>
<text x="196.2" y="902.19" text-anchor="end" class="yl">Caribbean</text>
<line x1="198.7" y1="916.03" x2="202.2" y2="916.03" stroke="#333" stroke-width="1.2"/>
<text x="196.2" y="920.83" text-anchor="end" class="yl">Central Europe</text>
<line x1="198.7" y1="934.68" x2="202.2" y2="934.68" stroke="#333" stroke-width="1.2"/>
<text x="196.2" y="939.48" text-anchor="end" class="yl">Eastern Europe</text>
<line x1="198.7" y1="953.32" x2="202.2" y2="953.32" stroke="#333" stroke-width="1.2"/>
<text x="196.2" y="958.12" text-anchor="end" class="yl">Central Asia</text>
<line x1="198.7" y1="971.96" x2="202.2" y2="971.96" stroke="#333" stroke-width="1.2"/>
<text x="196.2" y="976.76" text-anchor="end" class="yl">North Africa and Middle East</text>
<line x1="198.7" y1="990.6" x2="202.2" y2="990.6" stroke="#333" stroke-width="1.2"/>
<text x="196.2" y="995.4" text-anchor="end" class="yl">South Asia</text>
<line x1="198.7" y1="1009.25" x2="202.2" y2="1009.25" stroke="#333" stroke-width="1.2"/>
<text x="196.2" y="1014.05" text-anchor="end" class="yl">Southeast Asia</text>
<line x1="198.7" y1="1027.89" x2="202.2" y2="1027.89" stroke="#333" stroke-width="1.2"/>
<text x="196.2" y="1032.69" text-anchor="end" class="yl">East Asia</text>
<line x1="198.7" y1="1046.53" x2="202.2" y2="1046.53" stroke="#333" stroke-width="1.2"/>
<text x="196.2" y="1051.33" text-anchor="end" class="yl">Oceania</text>
<line x1="198.7" y1="1065.17" x2="202.2" y2="1065.17" stroke="#333" stroke-width="1.2"/>
<text x="196.2" y="1069.97" text-anchor="end" class="yl">Western Sub−Saharan Africa</text>
<line x1="198.7" y1="1083.82" x2="202.2" y2="1083.82" stroke="#333" stroke-width="1.2"/>
<text x="196.2" y="1088.62" text-anchor="end" class="yl">Eastern Sub−Saharan Africa</text>
<line x1="198.7" y1="1102.46" x2="202.2" y2="1102.46" stroke="#333" stroke-width="1.2"/>
<text x="196.2" y="1107.26" text-anchor="end" class="yl">Central Sub−Saharan Africa</text>
<line x1="198.7" y1="1121.1" x2="202.2" y2="1121.1" stroke="#333" stroke-width="1.2"/>
<text x="196.2" y="1125.9" text-anchor="end" class="yl">Southern Sub−Saharan Africa</text>
<line x1="220.5" y1="1131.9" x2="220.5" y2="1135.4" stroke="#333" stroke-width="1.2"/>
<text x="0" y="0" text-anchor="end" class="xl" transform="translate(220.7,1137.9) rotate(-45) translate(0,9.72)">−50 000</text>
<line x1="487.1" y1="1131.9" x2="487.1" y2="1135.4" stroke="#333" stroke-width="1.2"/>
<text x="0" y="0" text-anchor="end" class="xl" transform="translate(487.3,1137.9) rotate(-45) translate(0,9.72)">0</text>
<line x1="753.6" y1="1131.9" x2="753.6" y2="1135.4" stroke="#333" stroke-width="1.2"/>
<text x="0" y="0" text-anchor="end" class="xl" transform="translate(753.8,1137.9) rotate(-45) translate(0,9.72)">50 000</text>
<text x="497.1" y="616.8" text-anchor="middle" class="tt">Cocaine</text>
<text x="531.7" y="1174" text-anchor="middle" class="ax">Incidence</text>
<line x1="1313.4" y1="624.6" x2="1313.4" y2="1125.8" stroke="#E6E6E6" stroke-width="1.5"/>
<line x1="1487.2" y1="624.6" x2="1487.2" y2="1125.8" stroke="#E6E6E6" stroke-width="1.5"/>
<line x1="1661.5" y1="624.6" x2="1661.5" y2="1125.8" stroke="#E6E6E6" stroke-width="1.5"/>
<line x1="1835.3" y1="624.6" x2="1835.3" y2="1125.8" stroke="#E6E6E6" stroke-width="1.5"/>
<line x1="1226.3" y1="624.6" x2="1226.3" y2="1125.8" stroke="#E6E6E6" stroke-width="1.5"/>
<line x1="1400.1" y1="624.6" x2="1400.1" y2="1125.8" stroke="#E6E6E6" stroke-width="1.5"/>
<line x1="1574.3" y1="624.6" x2="1574.3" y2="1125.8" stroke="#E6E6E6" stroke-width="1.5"/>
<line x1="1748.2" y1="624.6" x2="1748.2" y2="1125.8" stroke="#E6E6E6" stroke-width="1.5"/>
<line x1="1151.6" y1="635.4" x2="1894.6" y2="635.4" stroke="#E6E6E6" stroke-width="1.5"/>
<line x1="1151.6" y1="653.86" x2="1894.6" y2="653.86" stroke="#E6E6E6" stroke-width="1.5"/>
<line x1="1151.6" y1="672.31" x2="1894.6" y2="672.31" stroke="#E6E6E6" stroke-width="1.5"/>
<line x1="1151.6" y1="690.77" x2="1894.6" y2="690.77" stroke="#E6E6E6" stroke-width="1.5"/>
<line x1="1151.6" y1="709.22" x2="1894.6" y2="709.22" stroke="#E6E6E6" stroke-width="1.5"/>
<line x1="1151.6" y1="727.68" x2="1894.6" y2="727.68" stroke="#E6E6E6" stroke-width="1.5"/>
<line x1="1151.6" y1="746.13" x2="1894.6" y2="746.13" stroke="#E6E6E6" stroke-width="1.5"/>
<line x1="1151.6" y1="764.59" x2="1894.6" y2="764.59" stroke="#E6E6E6" stroke-width="1.5"/>
<line x1="1151.6" y1="783.05" x2="1894.6" y2="783.05" stroke="#E6E6E6" stroke-width="1.5"/>
<line x1="1151.6" y1="801.5" x2="1894.6" y2="801.5" stroke="#E6E6E6" stroke-width="1.5"/>
<line x1="1151.6" y1="819.96" x2="1894.6" y2="819.96" stroke="#E6E6E6" stroke-width="1.5"/>
<line x1="1151.6" y1="838.41" x2="1894.6" y2="838.41" stroke="#E6E6E6" stroke-width="1.5"/>
<line x1="1151.6" y1="856.87" x2="1894.6" y2="856.87" stroke="#E6E6E6" stroke-width="1.5"/>
<line x1="1151.6" y1="875.33" x2="1894.6" y2="875.33" stroke="#E6E6E6" stroke-width="1.5"/>
<line x1="1151.6" y1="893.78" x2="1894.6" y2="893.78" stroke="#E6E6E6" stroke-width="1.5"/>
<line x1="1151.6" y1="912.24" x2="1894.6" y2="912.24" stroke="#E6E6E6" stroke-width="1.5"/>
<line x1="1151.6" y1="930.69" x2="1894.6" y2="930.69" stroke="#E6E6E6" stroke-width="1.5"/>
<line x1="1151.6" y1="949.15" x2="1894.6" y2="949.15" stroke="#E6E6E6" stroke-width="1.5"/>
<line x1="1151.6" y1="967.6" x2="1894.6" y2="967.6" stroke="#E6E6E6" stroke-width="1.5"/>
<line x1="1151.6" y1="986.06" x2="1894.6" y2="986.06" stroke="#E6E6E6" stroke-width="1.5"/>
<line x1="1151.6" y1="1004.52" x2="1894.6" y2="1004.52" stroke="#E6E6E6" stroke-width="1.5"/>
<line x1="1151.6" y1="1022.97" x2="1894.6" y2="1022.97" stroke="#E6E6E6" stroke-width="1.5"/>
<line x1="1151.6" y1="1041.43" x2="1894.6" y2="1041.43" stroke="#E6E6E6" stroke-width="1.5"/>
<line x1="1151.6" y1="1059.88" x2="1894.6" y2="1059.88" stroke="#E6E6E6" stroke-width="1.5"/>
<line x1="1151.6" y1="1078.34" x2="1894.6" y2="1078.34" stroke="#E6E6E6" stroke-width="1.5"/>
<line x1="1151.6" y1="1096.79" x2="1894.6" y2="1096.79" stroke="#E6E6E6" stroke-width="1.5"/>
<line x1="1151.6" y1="1115.25" x2="1894.6" y2="1115.25" stroke="#E6E6E6" stroke-width="1.5"/>
<rect x="1384.1" y="627.09" width="16.6" height="16.61" fill="#DD5044"/>
<rect x="1400.1" y="627.09" width="461.9" height="16.61" fill="#4AB0C8"/>
<rect x="1400.1" y="627.09" width="437.6" height="16.61" fill="#2D9C88"/>
<rect x="1288.2" y="645.55" width="112.5" height="16.61" fill="#DD5044"/>
<rect x="1400.1" y="645.55" width="391.6" height="16.61" fill="#4AB0C8"/>
<rect x="1400.1" y="645.55" width="110.7" height="16.61" fill="#2D9C88"/>
<rect x="1260.7" y="664.01" width="140" height="16.61" fill="#DD5044"/>
<rect x="1344.6" y="664.01" width="56.1" height="16.61" fill="#4AB0C8"/>
<rect x="1400.1" y="664.01" width="101.1" height="16.61" fill="#2D9C88"/>
<rect x="1285.8" y="682.46" width="114.9" height="16.61" fill="#DD5044"/>
<rect x="1293.8" y="682.46" width="106.9" height="16.61" fill="#4AB0C8"/>
<rect x="1400.1" y="682.46" width="127.5" height="16.61" fill="#2D9C88"/>
<rect x="1400.1" y="700.92" width="125.1" height="16.61" fill="#DD5044"/>
<rect x="1400.1" y="700.92" width="86.3" height="16.61" fill="#4AB0C8"/>
<rect x="1400.1" y="700.92" width="73.2" height="16.61" fill="#2D9C88"/>
<rect x="1394.1" y="719.37" width="6.6" height="16.61" fill="#4AB0C8"/>
<rect x="1400.1" y="719.37" width="71.6" height="16.61" fill="#DD5044"/>
<rect x="1400.1" y="719.37" width="28.4" height="16.61" fill="#2D9C88"/>
<rect x="1390.1" y="737.83" width="10.6" height="16.61" fill="#DD5044"/>
<rect x="1400.1" y="737.83" width="7.2" height="16.61" fill="#2D9C88"/>
<rect x="1350.6" y="756.29" width="50.1" height="16.61" fill="#DD5044"/>
<rect x="1400.1" y="756.29" width="306.5" height="16.61" fill="#4AB0C8"/>
<rect x="1400.1" y="756.29" width="70" height="16.61" fill="#2D9C88"/>
<rect x="1371.4" y="774.74" width="29.3" height="16.61" fill="#DD5044"/>
<rect x="1400.1" y="774.74" width="33.2" height="16.61" fill="#4AB0C8"/>
<rect x="1400.1" y="774.74" width="24.4" height="16.61" fill="#2D9C88"/>
<rect x="1400.1" y="793.2" width="3.6" height="16.61" fill="#2D9C88"/>
<rect x="1400.1" y="811.65" width="2.8" height="16.61" fill="#2D9C88"/>
<rect x="1398.5" y="830.11" width="2.2" height="16.61" fill="#4AB0C8"/>
<rect x="1400.1" y="830.11" width="8.8" height="16.61" fill="#2D9C88"/>
<rect x="1400.1" y="848.56" width="10" height="16.61" fill="#2D9C88"/>
<rect x="1400.1" y="867.02" width="2.4" height="16.61" fill="#2D9C88"/>
<rect x="1398.5" y="885.48" width="2.2" height="16.61" fill="#DD5044"/>
<rect x="1400.1" y="885.48" width="2" height="16.61" fill="#2D9C88"/>
<rect x="1393.3" y="903.93" width="7.4" height="16.61" fill="#DD5044"/>
<rect x="1400.1" y="903.93" width="6.8" height="16.61" fill="#4AB0C8"/>
<rect x="1400.1" y="903.93" width="5" height="16.61" fill="#2D9C88"/>
<rect x="1335.8" y="922.39" width="64.9" height="16.61" fill="#DD5044"/>
<rect x="1400.1" y="922.39" width="47.6" height="16.61" fill="#4AB0C8"/>
<rect x="1400.1" y="922.39" width="40.8" height="16.61" fill="#2D9C88"/>
<rect x="1398.1" y="940.84" width="2.6" height="16.61" fill="#DD5044"/>
<rect x="1400.1" y="940.84" width="8.4" height="16.61" fill="#2D9C88"/>
<rect x="1400.1" y="959.3" width="85.9" height="16.61" fill="#DD5044"/>
<rect x="1400.1" y="959.3" width="58.8" height="16.61" fill="#4AB0C8"/>
<rect x="1400.1" y="959.3" width="47.2" height="16.61" fill="#2D9C88"/>
<rect x="1400.1" y="977.75" width="141.5" height="16.61" fill="#DD5044"/>
<rect x="1400.1" y="977.75" width="95.9" height="16.61" fill="#4AB0C8"/>
<rect x="1400.1" y="977.75" width="71.2" height="16.61" fill="#2D9C88"/>
<rect x="1400.1" y="996.21" width="17.6" height="16.61" fill="#DD5044"/>
<rect x="1400.1" y="996.21" width="15.6" height="16.61" fill="#2D9C88"/>
<rect x="1185.2" y="1014.67" width="215.5" height="16.61" fill="#DD5044"/>
<rect x="1260.7" y="1014.67" width="140" height="16.61" fill="#4AB0C8"/>
<rect x="1400.1" y="1014.67" width="93.1" height="16.61" fill="#2D9C88"/>
<rect x="1400.1" y="1033.12" width="0.5" height="16.61" fill="#2D9C88"/>
<rect x="1400.1" y="1051.58" width="22.8" height="16.61" fill="#DD5044"/>
<rect x="1400.1" y="1051.58" width="9.6" height="16.61" fill="#2D9C88"/>
<rect x="1400.1" y="1070.03" width="17.6" height="16.61" fill="#DD5044"/>
<rect x="1400.1" y="1070.03" width="7.6" height="16.61" fill="#2D9C88"/>
<rect x="1400.1" y="1088.49" width="6.8" height="16.61" fill="#DD5044"/>
<rect x="1400.1" y="1088.49" width="3.6" height="16.61" fill="#2D9C88"/>
<rect x="1395.3" y="1106.94" width="5.4" height="16.61" fill="#4AB0C8"/>
<rect x="1400.1" y="1106.94" width="6.4" height="16.61" fill="#DD5044"/>
<rect x="1400.1" y="1106.94" width="5.2" height="16.61" fill="#2D9C88"/>
<circle cx="1846.1" cy="635.4" r="4.4" fill="#000"/>
<circle cx="1679.8" cy="653.86" r="4.4" fill="#000"/>
<circle cx="1361.8" cy="672.31" r="4.4" fill="#000"/>
<circle cx="1413.3" cy="690.77" r="4.4" fill="#000"/>
<circle cx="1525.2" cy="709.22" r="4.4" fill="#000"/>
<circle cx="1465.7" cy="727.68" r="4.4" fill="#000"/>
<circle cx="1397.3" cy="746.13" r="4.4" fill="#000"/>
<circle cx="1657.1" cy="764.59" r="4.4" fill="#000"/>
<circle cx="1404.5" cy="783.05" r="4.4" fill="#000"/>
<circle cx="1402.5" cy="801.5" r="4.4" fill="#000"/>
<circle cx="1403.7" cy="819.96" r="4.4" fill="#000"/>
<circle cx="1406.9" cy="838.41" r="4.4" fill="#000"/>
<circle cx="1409.3" cy="856.87" r="4.4" fill="#000"/>
<circle cx="1402.1" cy="875.33" r="4.4" fill="#000"/>
<circle cx="1400.1" cy="893.78" r="4.4" fill="#000"/>
<circle cx="1400.1" cy="912.24" r="4.4" fill="#000"/>
<circle cx="1383.3" cy="930.69" r="4.4" fill="#000"/>
<circle cx="1406.1" cy="949.15" r="4.4" fill="#000"/>
<circle cx="1486" cy="967.6" r="4.4" fill="#000"/>
<circle cx="1541.6" cy="986.06" r="4.4" fill="#000"/>
<circle cx="1417.3" cy="1004.52" r="4.4" fill="#000"/>
<circle cx="1278.3" cy="1022.97" r="4.4" fill="#000"/>
<circle cx="1400.5" cy="1041.43" r="4.4" fill="#000"/>
<circle cx="1421.7" cy="1059.88" r="4.4" fill="#000"/>
<circle cx="1417.7" cy="1078.34" r="4.4" fill="#000"/>
<circle cx="1407.3" cy="1096.79" r="4.4" fill="#000"/>
<circle cx="1401.3" cy="1115.25" r="4.4" fill="#000"/>
<rect x="1151.6" y="624.6" width="743" height="501.2" fill="none" stroke="#707070" stroke-width="1.4"/>
<line x1="1148.1" y1="635.4" x2="1151.6" y2="635.4" stroke="#333" stroke-width="1.2"/>
<text x="1145.6" y="640.2" text-anchor="end" class="yl">Global</text>
<line x1="1148.1" y1="653.86" x2="1151.6" y2="653.86" stroke="#333" stroke-width="1.2"/>
<text x="1145.6" y="658.66" text-anchor="end" class="yl">High SDI</text>
<line x1="1148.1" y1="672.31" x2="1151.6" y2="672.31" stroke="#333" stroke-width="1.2"/>
<text x="1145.6" y="677.11" text-anchor="end" class="yl">High−middle SDI</text>
<line x1="1148.1" y1="690.77" x2="1151.6" y2="690.77" stroke="#333" stroke-width="1.2"/>
<text x="1145.6" y="695.57" text-anchor="end" class="yl">Middle SDI</text>
<line x1="1148.1" y1="709.22" x2="1151.6" y2="709.22" stroke="#333" stroke-width="1.2"/>
<text x="1145.6" y="714.02" text-anchor="end" class="yl">Low−middle SDI</text>
<line x1="1148.1" y1="727.68" x2="1151.6" y2="727.68" stroke="#333" stroke-width="1.2"/>
<text x="1145.6" y="732.48" text-anchor="end" class="yl">Low SDI</text>
<line x1="1148.1" y1="746.13" x2="1151.6" y2="746.13" stroke="#333" stroke-width="1.2"/>
<text x="1145.6" y="750.93" text-anchor="end" class="yl">High−income Asia Pacific</text>
<line x1="1148.1" y1="764.59" x2="1151.6" y2="764.59" stroke="#333" stroke-width="1.2"/>
<text x="1145.6" y="769.39" text-anchor="end" class="yl">High−income North America</text>
<line x1="1148.1" y1="783.05" x2="1151.6" y2="783.05" stroke="#333" stroke-width="1.2"/>
<text x="1145.6" y="787.85" text-anchor="end" class="yl">Western Europe</text>
<line x1="1148.1" y1="801.5" x2="1151.6" y2="801.5" stroke="#333" stroke-width="1.2"/>
<text x="1145.6" y="806.3" text-anchor="end" class="yl">Australasia</text>
<line x1="1148.1" y1="819.96" x2="1151.6" y2="819.96" stroke="#333" stroke-width="1.2"/>
<text x="1145.6" y="824.76" text-anchor="end" class="yl">Andean Latin America</text>
<line x1="1148.1" y1="838.41" x2="1151.6" y2="838.41" stroke="#333" stroke-width="1.2"/>
<text x="1145.6" y="843.21" text-anchor="end" class="yl">Tropical Latin America</text>
<line x1="1148.1" y1="856.87" x2="1151.6" y2="856.87" stroke="#333" stroke-width="1.2"/>
<text x="1145.6" y="861.67" text-anchor="end" class="yl">Central Latin America</text>
<line x1="1148.1" y1="875.33" x2="1151.6" y2="875.33" stroke="#333" stroke-width="1.2"/>
<text x="1145.6" y="880.12" text-anchor="end" class="yl">Southern Latin America</text>
<line x1="1148.1" y1="893.78" x2="1151.6" y2="893.78" stroke="#333" stroke-width="1.2"/>
<text x="1145.6" y="898.58" text-anchor="end" class="yl">Caribbean</text>
<line x1="1148.1" y1="912.24" x2="1151.6" y2="912.24" stroke="#333" stroke-width="1.2"/>
<text x="1145.6" y="917.04" text-anchor="end" class="yl">Central Europe</text>
<line x1="1148.1" y1="930.69" x2="1151.6" y2="930.69" stroke="#333" stroke-width="1.2"/>
<text x="1145.6" y="935.49" text-anchor="end" class="yl">Eastern Europe</text>
<line x1="1148.1" y1="949.15" x2="1151.6" y2="949.15" stroke="#333" stroke-width="1.2"/>
<text x="1145.6" y="953.95" text-anchor="end" class="yl">Central Asia</text>
<line x1="1148.1" y1="967.6" x2="1151.6" y2="967.6" stroke="#333" stroke-width="1.2"/>
<text x="1145.6" y="972.4" text-anchor="end" class="yl">North Africa and Middle East</text>
<line x1="1148.1" y1="986.06" x2="1151.6" y2="986.06" stroke="#333" stroke-width="1.2"/>
<text x="1145.6" y="990.86" text-anchor="end" class="yl">South Asia</text>
<line x1="1148.1" y1="1004.52" x2="1151.6" y2="1004.52" stroke="#333" stroke-width="1.2"/>
<text x="1145.6" y="1009.32" text-anchor="end" class="yl">Southeast Asia</text>
<line x1="1148.1" y1="1022.97" x2="1151.6" y2="1022.97" stroke="#333" stroke-width="1.2"/>
<text x="1145.6" y="1027.77" text-anchor="end" class="yl">East Asia</text>
<line x1="1148.1" y1="1041.43" x2="1151.6" y2="1041.43" stroke="#333" stroke-width="1.2"/>
<text x="1145.6" y="1046.23" text-anchor="end" class="yl">Oceania</text>
<line x1="1148.1" y1="1059.88" x2="1151.6" y2="1059.88" stroke="#333" stroke-width="1.2"/>
<text x="1145.6" y="1064.68" text-anchor="end" class="yl">Western Sub−Saharan Africa</text>
<line x1="1148.1" y1="1078.34" x2="1151.6" y2="1078.34" stroke="#333" stroke-width="1.2"/>
<text x="1145.6" y="1083.14" text-anchor="end" class="yl">Eastern Sub−Saharan Africa</text>
<line x1="1148.1" y1="1096.79" x2="1151.6" y2="1096.79" stroke="#333" stroke-width="1.2"/>
<text x="1145.6" y="1101.59" text-anchor="end" class="yl">Central Sub−Saharan Africa</text>
<line x1="1148.1" y1="1115.25" x2="1151.6" y2="1115.25" stroke="#333" stroke-width="1.2"/>
<text x="1145.6" y="1120.05" text-anchor="end" class="yl">Southern Sub−Saharan Africa</text>
<line x1="1226.3" y1="1125.8" x2="1226.3" y2="1129.3" stroke="#333" stroke-width="1.2"/>
<text x="0" y="0" text-anchor="end" class="xl" transform="translate(1226.5,1131.8) rotate(-45) translate(0,9.72)">−250 000</text>
<line x1="1400.1" y1="1125.8" x2="1400.1" y2="1129.3" stroke="#333" stroke-width="1.2"/>
<text x="0" y="0" text-anchor="end" class="xl" transform="translate(1400.3,1131.8) rotate(-45) translate(0,9.72)">0</text>
<line x1="1574.3" y1="1125.8" x2="1574.3" y2="1129.3" stroke="#333" stroke-width="1.2"/>
<text x="0" y="0" text-anchor="end" class="xl" transform="translate(1574.5,1131.8) rotate(-45) translate(0,9.72)">250 000</text>
<line x1="1748.2" y1="1125.8" x2="1748.2" y2="1129.3" stroke="#333" stroke-width="1.2"/>
<text x="0" y="0" text-anchor="end" class="xl" transform="translate(1748.4,1131.8) rotate(-45) translate(0,9.72)">500 000</text>
<text x="1464.4" y="616.8" text-anchor="middle" class="tt">Opioid</text>
<text x="1416.6" y="1174" text-anchor="middle" class="ax">Incidence</text>
<line x1="285.2" y1="1210.9" x2="285.2" y2="1709.6" stroke="#E6E6E6" stroke-width="1.5"/>
<line x1="454.7" y1="1210.9" x2="454.7" y2="1709.6" stroke="#E6E6E6" stroke-width="1.5"/>
<line x1="623.9" y1="1210.9" x2="623.9" y2="1709.6" stroke="#E6E6E6" stroke-width="1.5"/>
<line x1="793" y1="1210.9" x2="793" y2="1709.6" stroke="#E6E6E6" stroke-width="1.5"/>
<line x1="370" y1="1210.9" x2="370" y2="1709.6" stroke="#E6E6E6" stroke-width="1.5"/>
<line x1="539.1" y1="1210.9" x2="539.1" y2="1709.6" stroke="#E6E6E6" stroke-width="1.5"/>
<line x1="708.7" y1="1210.9" x2="708.7" y2="1709.6" stroke="#E6E6E6" stroke-width="1.5"/>
<line x1="877.8" y1="1210.9" x2="877.8" y2="1709.6" stroke="#E6E6E6" stroke-width="1.5"/>
<line x1="202.2" y1="1221.6" x2="946.3" y2="1221.6" stroke="#E6E6E6" stroke-width="1.5"/>
<line x1="202.2" y1="1239.96" x2="946.3" y2="1239.96" stroke="#E6E6E6" stroke-width="1.5"/>
<line x1="202.2" y1="1258.32" x2="946.3" y2="1258.32" stroke="#E6E6E6" stroke-width="1.5"/>
<line x1="202.2" y1="1276.67" x2="946.3" y2="1276.67" stroke="#E6E6E6" stroke-width="1.5"/>
<line x1="202.2" y1="1295.03" x2="946.3" y2="1295.03" stroke="#E6E6E6" stroke-width="1.5"/>
<line x1="202.2" y1="1313.39" x2="946.3" y2="1313.39" stroke="#E6E6E6" stroke-width="1.5"/>
<line x1="202.2" y1="1331.75" x2="946.3" y2="1331.75" stroke="#E6E6E6" stroke-width="1.5"/>
<line x1="202.2" y1="1350.1" x2="946.3" y2="1350.1" stroke="#E6E6E6" stroke-width="1.5"/>
<line x1="202.2" y1="1368.46" x2="946.3" y2="1368.46" stroke="#E6E6E6" stroke-width="1.5"/>
<line x1="202.2" y1="1386.82" x2="946.3" y2="1386.82" stroke="#E6E6E6" stroke-width="1.5"/>
<line x1="202.2" y1="1405.18" x2="946.3" y2="1405.18" stroke="#E6E6E6" stroke-width="1.5"/>
<line x1="202.2" y1="1423.53" x2="946.3" y2="1423.53" stroke="#E6E6E6" stroke-width="1.5"/>
<line x1="202.2" y1="1441.89" x2="946.3" y2="1441.89" stroke="#E6E6E6" stroke-width="1.5"/>
<line x1="202.2" y1="1460.25" x2="946.3" y2="1460.25" stroke="#E6E6E6" stroke-width="1.5"/>
<line x1="202.2" y1="1478.61" x2="946.3" y2="1478.61" stroke="#E6E6E6" stroke-width="1.5"/>
<line x1="202.2" y1="1496.97" x2="946.3" y2="1496.97" stroke="#E6E6E6" stroke-width="1.5"/>
<line x1="202.2" y1="1515.32" x2="946.3" y2="1515.32" stroke="#E6E6E6" stroke-width="1.5"/>
<line x1="202.2" y1="1533.68" x2="946.3" y2="1533.68" stroke="#E6E6E6" stroke-width="1.5"/>
<line x1="202.2" y1="1552.04" x2="946.3" y2="1552.04" stroke="#E6E6E6" stroke-width="1.5"/>
<line x1="202.2" y1="1570.4" x2="946.3" y2="1570.4" stroke="#E6E6E6" stroke-width="1.5"/>
<line x1="202.2" y1="1588.75" x2="946.3" y2="1588.75" stroke="#E6E6E6" stroke-width="1.5"/>
<line x1="202.2" y1="1607.11" x2="946.3" y2="1607.11" stroke="#E6E6E6" stroke-width="1.5"/>
<line x1="202.2" y1="1625.47" x2="946.3" y2="1625.47" stroke="#E6E6E6" stroke-width="1.5"/>
<line x1="202.2" y1="1643.83" x2="946.3" y2="1643.83" stroke="#E6E6E6" stroke-width="1.5"/>
<line x1="202.2" y1="1662.18" x2="946.3" y2="1662.18" stroke="#E6E6E6" stroke-width="1.5"/>
<line x1="202.2" y1="1680.54" x2="946.3" y2="1680.54" stroke="#E6E6E6" stroke-width="1.5"/>
<line x1="202.2" y1="1698.9" x2="946.3" y2="1698.9" stroke="#E6E6E6" stroke-width="1.5"/>
<rect x="235.9" y="1213.34" width="134.7" height="16.52" fill="#4AB0C8"/>
<rect x="370" y="1213.34" width="542.9" height="16.52" fill="#DD5044"/>
<rect x="370" y="1213.34" width="360" height="16.52" fill="#2D9C88"/>
<rect x="324.6" y="1231.7" width="46" height="16.52" fill="#DD5044"/>
<rect x="370" y="1231.7" width="115.9" height="16.52" fill="#4AB0C8"/>
<rect x="370" y="1231.7" width="87.5" height="16.52" fill="#2D9C88"/>
<rect x="333.3" y="1250.05" width="37.3" height="16.52" fill="#DD5044"/>
<rect x="353" y="1250.05" width="17.6" height="16.52" fill="#4AB0C8"/>
<rect x="370" y="1250.05" width="81.2" height="16.52" fill="#2D9C88"/>
<rect x="345.5" y="1268.41" width="25.1" height="16.52" fill="#4AB0C8"/>
<rect x="370" y="1268.41" width="145.9" height="16.52" fill="#DD5044"/>
<rect x="370" y="1268.41" width="107.2" height="16.52" fill="#2D9C88"/>
<rect x="370" y="1286.77" width="120.2" height="16.52" fill="#DD5044"/>
<rect x="370" y="1286.77" width="73.7" height="16.52" fill="#4AB0C8"/>
<rect x="370" y="1286.77" width="56.7" height="16.52" fill="#2D9C88"/>
<rect x="370" y="1305.13" width="52.8" height="16.52" fill="#DD5044"/>
<rect x="370" y="1305.13" width="26" height="16.52" fill="#4AB0C8"/>
<rect x="370" y="1305.13" width="21.2" height="16.52" fill="#2D9C88"/>
<rect x="357.3" y="1323.49" width="13.3" height="16.52" fill="#DD5044"/>
<rect x="370" y="1323.49" width="12.2" height="16.52" fill="#2D9C88"/>
<rect x="353" y="1341.84" width="17.6" height="16.52" fill="#DD5044"/>
<rect x="370" y="1341.84" width="53.2" height="16.52" fill="#4AB0C8"/>
<rect x="370" y="1341.84" width="31.9" height="16.52" fill="#2D9C88"/>
<rect x="336.8" y="1360.2" width="33.8" height="16.52" fill="#DD5044"/>
<rect x="370" y="1360.2" width="52.4" height="16.52" fill="#4AB0C8"/>
<rect x="370" y="1360.2" width="40.2" height="16.52" fill="#2D9C88"/>
<rect x="370" y="1378.56" width="3.9" height="16.52" fill="#2D9C88"/>
<rect x="370" y="1396.92" width="4.7" height="16.52" fill="#DD5044"/>
<rect x="370" y="1396.92" width="2.7" height="16.52" fill="#2D9C88"/>
<rect x="370" y="1415.27" width="16.9" height="16.52" fill="#DD5044"/>
<rect x="370" y="1415.27" width="12.2" height="16.52" fill="#4AB0C8"/>
<rect x="370" y="1415.27" width="8.2" height="16.52" fill="#2D9C88"/>
<rect x="370" y="1433.63" width="16.1" height="16.52" fill="#DD5044"/>
<rect x="370" y="1433.63" width="9.8" height="16.52" fill="#2D9C88"/>
<rect x="370" y="1451.99" width="3.9" height="16.52" fill="#2D9C88"/>
<rect x="370" y="1470.35" width="2.3" height="16.52" fill="#2D9C88"/>
<rect x="362.1" y="1488.7" width="8.5" height="16.52" fill="#DD5044"/>
<rect x="370" y="1488.7" width="9" height="16.52" fill="#2D9C88"/>
<rect x="350.2" y="1507.06" width="20.4" height="16.52" fill="#DD5044"/>
<rect x="370" y="1507.06" width="19.3" height="16.52" fill="#2D9C88"/>
<rect x="370" y="1525.42" width="6.3" height="16.52" fill="#DD5044"/>
<rect x="370" y="1525.42" width="4.7" height="16.52" fill="#2D9C88"/>
<rect x="370" y="1543.78" width="54" height="16.52" fill="#DD5044"/>
<rect x="370" y="1543.78" width="26" height="16.52" fill="#4AB0C8"/>
<rect x="370" y="1543.78" width="22" height="16.52" fill="#2D9C88"/>
<rect x="370" y="1562.14" width="124.2" height="16.52" fill="#DD5044"/>
<rect x="370" y="1562.14" width="76.1" height="16.52" fill="#4AB0C8"/>
<rect x="370" y="1562.14" width="54.4" height="16.52" fill="#2D9C88"/>
<rect x="367.6" y="1580.49" width="3" height="16.52" fill="#4AB0C8"/>
<rect x="370" y="1580.49" width="43.3" height="16.52" fill="#DD5044"/>
<rect x="370" y="1580.49" width="23.6" height="16.52" fill="#2D9C88"/>
<rect x="306.1" y="1598.85" width="64.5" height="16.52" fill="#DD5044"/>
<rect x="314.7" y="1598.85" width="55.9" height="16.52" fill="#4AB0C8"/>
<rect x="370" y="1598.85" width="92.6" height="16.52" fill="#2D9C88"/>
<rect x="370" y="1617.21" width="0.6" height="16.52" fill="#2D9C88"/>
<rect x="370" y="1635.57" width="23.2" height="16.52" fill="#DD5044"/>
<rect x="370" y="1635.57" width="11.4" height="16.52" fill="#4AB0C8"/>
<rect x="370" y="1635.57" width="10.2" height="16.52" fill="#2D9C88"/>
<rect x="370" y="1653.92" width="17.7" height="16.52" fill="#DD5044"/>
<rect x="370" y="1653.92" width="7.1" height="16.52" fill="#2D9C88"/>
<rect x="370" y="1672.28" width="6.3" height="16.52" fill="#DD5044"/>
<rect x="370" y="1672.28" width="3.1" height="16.52" fill="#2D9C88"/>
<rect x="370" y="1690.64" width="5.5" height="16.52" fill="#DD5044"/>
<rect x="370" y="1690.64" width="3.5" height="16.52" fill="#2D9C88"/>
<circle cx="778.1" cy="1221.6" r="4.4" fill="#000"/>
<circle cx="440.1" cy="1239.96" r="4.4" fill="#000"/>
<circle cx="414.1" cy="1258.32" r="4.4" fill="#000"/>
<circle cx="491" cy="1276.67" r="4.4" fill="#000"/>
<circle cx="489.8" cy="1295.03" r="4.4" fill="#000"/>
<circle cx="422.4" cy="1313.39" r="4.4" fill="#000"/>
<circle cx="369.2" cy="1331.75" r="4.4" fill="#000"/>
<circle cx="405.8" cy="1350.1" r="4.4" fill="#000"/>
<circle cx="389.3" cy="1368.46" r="4.4" fill="#000"/>
<circle cx="374.3" cy="1386.82" r="4.4" fill="#000"/>
<circle cx="374.7" cy="1405.18" r="4.4" fill="#000"/>
<circle cx="386.9" cy="1423.53" r="4.4" fill="#000"/>
<circle cx="386.1" cy="1441.89" r="4.4" fill="#000"/>
<circle cx="374.3" cy="1460.25" r="4.4" fill="#000"/>
<circle cx="371.9" cy="1478.61" r="4.4" fill="#000"/>
<circle cx="370.7" cy="1496.97" r="4.4" fill="#000"/>
<circle cx="369.6" cy="1515.32" r="4.4" fill="#000"/>
<circle cx="375.9" cy="1533.68" r="4.4" fill="#000"/>
<circle cx="424" cy="1552.04" r="4.4" fill="#000"/>
<circle cx="494.2" cy="1570.4" r="4.4" fill="#000"/>
<circle cx="410.2" cy="1588.75" r="4.4" fill="#000"/>
<circle cx="398.7" cy="1607.11" r="4.4" fill="#000"/>
<circle cx="370.7" cy="1625.47" r="4.4" fill="#000"/>
<circle cx="392.8" cy="1643.83" r="4.4" fill="#000"/>
<circle cx="387.3" cy="1662.18" r="4.4" fill="#000"/>
<circle cx="377.4" cy="1680.54" r="4.4" fill="#000"/>
<circle cx="375.5" cy="1698.9" r="4.4" fill="#000"/>
<rect x="202.2" y="1210.9" width="744.1" height="498.7" fill="none" stroke="#707070" stroke-width="1.4"/>
<line x1="198.7" y1="1221.6" x2="202.2" y2="1221.6" stroke="#333" stroke-width="1.2"/>
<text x="196.2" y="1226.4" text-anchor="end" class="yl">Global</text>
<line x1="198.7" y1="1239.96" x2="202.2" y2="1239.96" stroke="#333" stroke-width="1.2"/>
<text x="196.2" y="1244.76" text-anchor="end" class="yl">High SDI</text>
<line x1="198.7" y1="1258.32" x2="202.2" y2="1258.32" stroke="#333" stroke-width="1.2"/>
<text x="196.2" y="1263.12" text-anchor="end" class="yl">High−middle SDI</text>
<line x1="198.7" y1="1276.67" x2="202.2" y2="1276.67" stroke="#333" stroke-width="1.2"/>
<text x="196.2" y="1281.47" text-anchor="end" class="yl">Middle SDI</text>
<line x1="198.7" y1="1295.03" x2="202.2" y2="1295.03" stroke="#333" stroke-width="1.2"/>
<text x="196.2" y="1299.83" text-anchor="end" class="yl">Low−middle SDI</text>
<line x1="198.7" y1="1313.39" x2="202.2" y2="1313.39" stroke="#333" stroke-width="1.2"/>
<text x="196.2" y="1318.19" text-anchor="end" class="yl">Low SDI</text>
<line x1="198.7" y1="1331.75" x2="202.2" y2="1331.75" stroke="#333" stroke-width="1.2"/>
<text x="196.2" y="1336.55" text-anchor="end" class="yl">High−income Asia Pacific</text>
<line x1="198.7" y1="1350.1" x2="202.2" y2="1350.1" stroke="#333" stroke-width="1.2"/>
<text x="196.2" y="1354.9" text-anchor="end" class="yl">High−income North America</text>
<line x1="198.7" y1="1368.46" x2="202.2" y2="1368.46" stroke="#333" stroke-width="1.2"/>
<text x="196.2" y="1373.26" text-anchor="end" class="yl">Western Europe</text>
<line x1="198.7" y1="1386.82" x2="202.2" y2="1386.82" stroke="#333" stroke-width="1.2"/>
<text x="196.2" y="1391.62" text-anchor="end" class="yl">Australasia</text>
<line x1="198.7" y1="1405.18" x2="202.2" y2="1405.18" stroke="#333" stroke-width="1.2"/>
<text x="196.2" y="1409.98" text-anchor="end" class="yl">Andean Latin America</text>
<line x1="198.7" y1="1423.53" x2="202.2" y2="1423.53" stroke="#333" stroke-width="1.2"/>
<text x="196.2" y="1428.33" text-anchor="end" class="yl">Tropical Latin America</text>
<line x1="198.7" y1="1441.89" x2="202.2" y2="1441.89" stroke="#333" stroke-width="1.2"/>
<text x="196.2" y="1446.69" text-anchor="end" class="yl">Central Latin America</text>
<line x1="198.7" y1="1460.25" x2="202.2" y2="1460.25" stroke="#333" stroke-width="1.2"/>
<text x="196.2" y="1465.05" text-anchor="end" class="yl">Southern Latin America</text>
<line x1="198.7" y1="1478.61" x2="202.2" y2="1478.61" stroke="#333" stroke-width="1.2"/>
<text x="196.2" y="1483.41" text-anchor="end" class="yl">Caribbean</text>
<line x1="198.7" y1="1496.97" x2="202.2" y2="1496.97" stroke="#333" stroke-width="1.2"/>
<text x="196.2" y="1501.77" text-anchor="end" class="yl">Central Europe</text>
<line x1="198.7" y1="1515.32" x2="202.2" y2="1515.32" stroke="#333" stroke-width="1.2"/>
<text x="196.2" y="1520.12" text-anchor="end" class="yl">Eastern Europe</text>
<line x1="198.7" y1="1533.68" x2="202.2" y2="1533.68" stroke="#333" stroke-width="1.2"/>
<text x="196.2" y="1538.48" text-anchor="end" class="yl">Central Asia</text>
<line x1="198.7" y1="1552.04" x2="202.2" y2="1552.04" stroke="#333" stroke-width="1.2"/>
<text x="196.2" y="1556.84" text-anchor="end" class="yl">North Africa and Middle East</text>
<line x1="198.7" y1="1570.4" x2="202.2" y2="1570.4" stroke="#333" stroke-width="1.2"/>
<text x="196.2" y="1575.2" text-anchor="end" class="yl">South Asia</text>
<line x1="198.7" y1="1588.75" x2="202.2" y2="1588.75" stroke="#333" stroke-width="1.2"/>
<text x="196.2" y="1593.55" text-anchor="end" class="yl">Southeast Asia</text>
<line x1="198.7" y1="1607.11" x2="202.2" y2="1607.11" stroke="#333" stroke-width="1.2"/>
<text x="196.2" y="1611.91" text-anchor="end" class="yl">East Asia</text>
<line x1="198.7" y1="1625.47" x2="202.2" y2="1625.47" stroke="#333" stroke-width="1.2"/>
<text x="196.2" y="1630.27" text-anchor="end" class="yl">Oceania</text>
<line x1="198.7" y1="1643.83" x2="202.2" y2="1643.83" stroke="#333" stroke-width="1.2"/>
<text x="196.2" y="1648.63" text-anchor="end" class="yl">Western Sub−Saharan Africa</text>
<line x1="198.7" y1="1662.18" x2="202.2" y2="1662.18" stroke="#333" stroke-width="1.2"/>
<text x="196.2" y="1666.98" text-anchor="end" class="yl">Eastern Sub−Saharan Africa</text>
<line x1="198.7" y1="1680.54" x2="202.2" y2="1680.54" stroke="#333" stroke-width="1.2"/>
<text x="196.2" y="1685.34" text-anchor="end" class="yl">Central Sub−Saharan Africa</text>
<line x1="198.7" y1="1698.9" x2="202.2" y2="1698.9" stroke="#333" stroke-width="1.2"/>
<text x="196.2" y="1703.7" text-anchor="end" class="yl">Southern Sub−Saharan Africa</text>
<line x1="370" y1="1709.6" x2="370" y2="1713.1" stroke="#333" stroke-width="1.2"/>
<text x="0" y="0" text-anchor="end" class="xl" transform="translate(370.2,1715.6) rotate(-45) translate(0,9.72)">0</text>
<line x1="539.1" y1="1709.6" x2="539.1" y2="1713.1" stroke="#333" stroke-width="1.2"/>
<text x="0" y="0" text-anchor="end" class="xl" transform="translate(539.3,1715.6) rotate(-45) translate(0,9.72)">1 000 000</text>
<line x1="708.7" y1="1709.6" x2="708.7" y2="1713.1" stroke="#333" stroke-width="1.2"/>
<text x="0" y="0" text-anchor="end" class="xl" transform="translate(708.9,1715.6) rotate(-45) translate(0,9.72)">2 000 000</text>
<line x1="877.8" y1="1709.6" x2="877.8" y2="1713.1" stroke="#333" stroke-width="1.2"/>
<text x="0" y="0" text-anchor="end" class="xl" transform="translate(878,1715.6) rotate(-45) translate(0,9.72)">3 000 000</text>
<text x="535.6" y="1203.4" text-anchor="middle" class="tt">Other drug</text>
<text x="408.5" y="1765.5" text-anchor="middle" class="ax">Incidence</text>
<rect x="1110.2" y="1442.2" width="46" height="46" fill="#DD5044"/>
<text x="1172.9" y="1475.3" class="lg">Aging</text>
<rect x="1258.5" y="1442.2" width="46" height="46" fill="#4AB0C8"/>
<text x="1322" y="1475.3" class="lg">Epidemiological_Change</text>
<rect x="1630.1" y="1442.2" width="46" height="46" fill="#2D9C88"/>
<text x="1693.5" y="1475.3" class="lg">Population</text>
</svg>
</body></html>
